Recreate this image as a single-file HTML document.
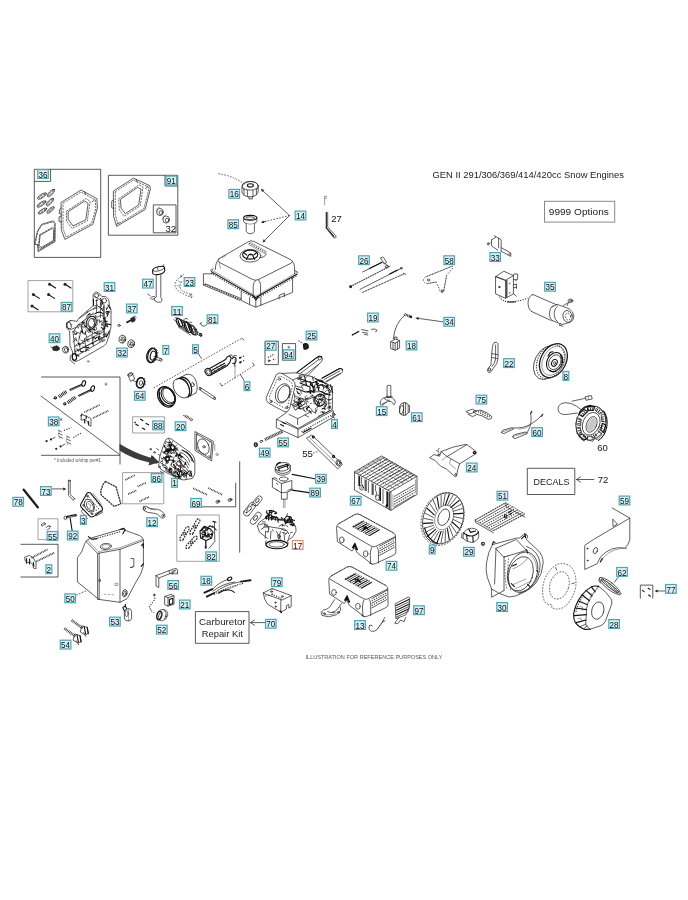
<!DOCTYPE html>
<html><head><meta charset="utf-8"><title>GEN II Snow Engines</title>
<style>
html,body{margin:0;padding:0;background:#fff;}
body{width:688px;height:900px;overflow:hidden;font-family:"Liberation Sans",sans-serif;}
svg{display:block;opacity:.999;}
.k{fill:none;stroke:#2b2b2b;stroke-width:.75;stroke-linecap:round;stroke-linejoin:round;}
.t{fill:none;stroke:#444;stroke-width:.5;stroke-linecap:round;stroke-linejoin:round;}
.h{fill:none;stroke:#111;stroke-width:1.1;stroke-linecap:round;stroke-linejoin:round;}
.w{fill:#fff;stroke:#2b2b2b;stroke-width:.75;stroke-linecap:round;stroke-linejoin:round;}
.g{fill:none;stroke:#8a8a8a;stroke-width:.8;}
.d{fill:none;stroke:#333;stroke-width:.8;stroke-dasharray:1.6 1.4;stroke-linecap:butt;}
.dd{fill:none;stroke:#333;stroke-width:1.1;stroke-dasharray:1.2 1.3;stroke-linecap:butt;}
.gk{fill:none;stroke:#2a2a2a;stroke-width:1.25;stroke-dasharray:1.8 1;stroke-linecap:butt;stroke-linejoin:round;}
.gd{fill:none;stroke:#333;stroke-width:.7;stroke-dasharray:2.2 .9;stroke-linecap:butt;stroke-linejoin:round;}
.b{fill:none;stroke:#222;stroke-width:.75;}
.fk{fill:#222;stroke:none;}
.fg{fill:#777;stroke:none;}
.lb{font-family:"Liberation Sans",sans-serif;font-size:9.9px;fill:#111;text-anchor:middle;}
.tx{font-family:"Liberation Sans",sans-serif;fill:#222;}
</style></head>
<body>
<svg width="688" height="900" viewBox="0 0 688 900">
<defs><filter id="gs" x="0" y="0" width="688" height="900" filterUnits="userSpaceOnUse" color-interpolation-filters="sRGB"><feColorMatrix type="saturate" values="0"/></filter></defs>
<rect x="0" y="0" width="688" height="900" fill="#fff"/>
<path class="b" d="M34.3 169.3H100.7V257.4H34.3Z"/>
<path class="b" d="M34.3 181.4H50.6V169.3"/>
<path class="b" d="M108.4 175.3H177.8V235.2H108.4Z"/>
<path class="b" d="M165 175.3V186H177.8"/>
<path class="g" d="M28 280.6H72.8V311.8H28Z"/>
<path class="b" d="M41.2 377H120V464.5"/>
<path class="k" d="M41.1 396.2L119.3 454.3"/>
<path class="b" d="M41.1 455.3H120"/>
<path class="g" d="M132.6 416.8H164.6V433H132.6Z"/>
<path class="g" d="M122.6 472.6H163.8V503.8H122.6Z"/>
<path class="g" d="M38 518.8H58V539.6H38Z"/>
<path class="b" d="M20.5 544.3H58V577H20.5"/>
<path class="b" d="M201.7 506.8H235.7V482.8"/>
<path class="g" d="M176.8 515H219.3V561.3H176.8Z"/>
<path class="b" d="M239.7 461.3V552.6"/>
<path class="b" d="M265 341.2H278.3V364.6H265Z"/>
<path class="b" d="M282.4 343.6H295.6V360.2H282.4Z"/>
<path class="b" d="M195.4 611.6H249V643.3H195.4Z"/>
<path class="b" d="M527.3 468.3H574.8V494.5H527.3Z"/>
<rect x="544.5" y="201.3" width="70.2" height="20.8" fill="#fff" stroke="#8a8a8a" stroke-width="1"/>
<path class="b" d="M640.3 598.6V585.1H652.8V598.6"/>
<path class="k" d="M289.5 215.5L263.1 191.0"/>
<path class="fk" d="M260.8 188.8L264.2 189.9L262.1 192.1Z"/>
<path class="k" d="M289.5 215.5L264.8 240.2"/>
<path class="fk" d="M262.5 242.5L263.7 239.2L265.8 241.3Z"/>
<path class="d" d="M289.5 215.5L264 221.8"/>
<path class="k" d="M266.0 221.3L263.9 221.8"/>
<path class="fk" d="M260.8 222.6L263.5 220.4L264.3 223.3Z"/>
<path class="d" d="M218.3 173.8Q233 175.5 245 184.5"/>
<path class="k" d="M442.8 321.8L418.5 318.4"/>
<path class="fk" d="M415.3 318.0L418.7 317.0L418.3 319.9Z"/>
<path class="k" d="M52.2 488.9L63.2 488.9"/>
<path class="fk" d="M66.4 488.9L63.2 490.4L63.2 487.4Z"/>
<path class="h" d="M292.2 474.4L314.7 478.8"/>
<path class="h" d="M292.2 490.1L308.9 492.6"/>
<path class="k" d="M265.0 622.6L250.5 622.6M254.5 620.0L250.5 622.6L254.5 625.2"/>
<path class="k" d="M594.0 479.5L576.5 479.5M580.5 476.9L576.5 479.5L580.5 482.1"/>
<path class="k" d="M665.0 591.0L657.7 591.0"/>
<path class="fk" d="M654.5 591.0L657.7 589.5L657.7 592.5Z"/>
<path class="k" d="M618.6 576.6L614.5 582.2"/>
<path class="d" d="M76.300 595.200L87.500 590.100"/>
<path class="d" d="M153.6 387.9L242.1 338.1"/>
<path class="k" d="M198.3 353.7L201.4 358.4M242.1 338.1l1.600 1.800"/>
<path class="d" d="M221.8 385.9L254.3 365.5"/>
<path class="k" d="M221.8 385.9l-1.600-2.600M254.300 365.500l-1.600-2.600M240.400 374.400l3.600 6"/>
<path class="k" d="M61.4 202.2L81.2 190.0L96.9 198.7L97.4 208.0L92.8 224.3L64.9 239.4L61.4 230.1Z"/>
<path class="gd" d="M63.0 203.2L81.0 192.1L95.3 200.0L95.8 208.5L91.6 223.3L66.2 237.0L63.0 228.6Z"/>
<path class="k" d="M68.4 211.5L84.7 201.0L88.1 203.4L85.8 219.7L73.0 226.0L68.4 219.7Z"/>
<path class="gd" d="M66.5 211.1L86.0 198.5L90.1 201.4L87.3 220.9L72.0 228.5L66.5 220.9Z"/>
<path class="k" d="M61.4 208l-2 1.5v4l2 .5M61.4 216l-2.4 1v4.5l2.4 .5M84 191.400l2 3M94.600 199.600l-2.400 2.400"/>
<path class="k" d="M37.6 231.0L41.6 224.3L53.3 220.8L55.2 223.1L55.0 241.7L38.1 251.6L37.6 245.2L34.8 244.3L34.8 243.0Z"/>
<path class="gd" d="M38.0 231.4L41.7 225.1L52.6 221.9L54.4 224.0L54.2 241.3L38.5 250.5L38.0 244.6L35.4 243.7L35.4 242.5Z"/>
<path class="k" d="M40.5 235.0L52.1 228.4L53.8 230.1L53.3 240.6L41.0 247.6L39.3 245.2Z"/>
<path class="gd" d="M39.6 234.6L52.9 227.1L54.8 229.0L54.2 241.0L40.2 249.0L38.3 246.2Z"/>
<ellipse class="k" cx="42" cy="196" rx="5.2" ry="1.7" transform="rotate(-32 42 196)"/>
<ellipse class="gd" cx="42" cy="196" rx="3.6" ry="0.7999999999999999" transform="rotate(-32 42 196)"/>
<ellipse class="k" cx="51" cy="193" rx="5" ry="1.7" transform="rotate(-48 51 193)"/>
<ellipse class="gd" cx="51" cy="193" rx="3.4" ry="0.7999999999999999" transform="rotate(-48 51 193)"/>
<ellipse class="k" cx="41.5" cy="204" rx="5.2" ry="1.7" transform="rotate(-32 41.5 204)"/>
<ellipse class="gd" cx="41.5" cy="204" rx="3.6" ry="0.7999999999999999" transform="rotate(-32 41.5 204)"/>
<ellipse class="k" cx="50" cy="202" rx="5" ry="1.7" transform="rotate(-48 50 202)"/>
<ellipse class="gd" cx="50" cy="202" rx="3.4" ry="0.7999999999999999" transform="rotate(-48 50 202)"/>
<ellipse class="k" cx="42.5" cy="211" rx="5" ry="1.6" transform="rotate(-32 42.5 211)"/>
<ellipse class="gd" cx="42.5" cy="211" rx="3.4" ry="0.7000000000000001" transform="rotate(-32 42.5 211)"/>
<ellipse class="k" cx="50.5" cy="210" rx="4.6" ry="1.6" transform="rotate(-40 50.5 210)"/>
<ellipse class="gd" cx="50.5" cy="210" rx="2.9999999999999996" ry="0.7000000000000001" transform="rotate(-40 50.5 210)"/>
<path class="k" d="M113.7 190.9L133.5 178.1L149.8 185.7L150.3 189.2L145.1 209.5L116.6 226.4L113.7 216.5Z"/>
<path class="gd" d="M115.3 191.7L133.3 180.0L148.2 186.9L148.6 190.1L143.9 208.6L118.0 224.0L115.3 215.0Z"/>
<path class="k" d="M120.7 199.1L137.6 187.4L141.0 189.2L138.7 204.9L125.3 213.6L121.3 208.4Z"/>
<path class="gd" d="M118.7 198.8L139.0 184.8L143.0 187.0L140.3 205.8L124.2 216.2L119.4 210.0Z"/>
<path class="k" d="M113.7 200l-2 1.2v6.5l2 .8M136 179.400l1.600 3M147.600 186.400l-2 2.400M116.600 224.400l2.400-1.600"/>
<ellipse class="k" cx="160" cy="212" rx="3.3" ry="3.6"/>
<ellipse class="k" cx="160.8" cy="212.6" rx="1.7" ry="2"/>
<path class="t" d="M156.7 212q-1 -4 3 -5"/>
<ellipse class="k" cx="166.2" cy="219.6" rx="3.3" ry="3.6"/>
<ellipse class="k" cx="167.0" cy="220.2" rx="1.7" ry="2"/>
<path class="t" d="M162.89999999999998 219.6q-1 -4 3 -5"/>
<path class="b" d="M153.3 204.9H176V232.8H153.3Z"/>
<path class="k" d="M242 186.5q1-4 8-5 7 0 8.3 4.6l-.2 6.2q-2 4.6-8.4 4.6-6.5-.4-7.6-4.4Z"/>
<ellipse class="k" cx="250.2" cy="185.8" rx="8.1" ry="4.4"/>
<ellipse class="h" cx="250.4" cy="185.4" rx="3" ry="1.6"/>
<path class="k" d="M244 189.5v5.5M247.4 190.3v6M253 190.3v6M256.4 189.5v5.3M242.4 188l2 1.6M258 188l-1.8 1.6"/>
<path class="k" d="M249 196.5v2.4h3.4v-2.4"/>
<ellipse class="h" cx="250.2" cy="217.8" rx="6.6" ry="2.4"/>
<ellipse class="k" cx="250.2" cy="218.2" rx="4.4" ry="1.4"/>
<path class="k" d="M243.6 217.8v3.6q.4 1.6 2.6 2v8q1.5 2.4 4.2 2.4t4-2.4v-8q2-.4 2.4-2v-3.6"/>
<path class="t" d="M246.2 223.4q4 1.8 8.2 0"/>
<path class="t" d="M324.6 204.8v-8.6h1.8v2.2h-1.8"/>
<path class="h" d="M326.3 212.4v15.4l7.6 8.6"/>
<path class="k" d="M327.7 212.4v14.6l8 8.6q1.2 1.7-.4 2.4-1.3.4-2.4-1.2l-6.6-8.9"/>
<path class="k" d="M219 258.6L248.6 241.6q2.4-1.5 5.2-.2L291 259.8q2.6 1.6 .4 3.2L258.4 279.6q-2.8 1.2-5.6 0L219.2 262.3q-2.4-1.8-.2-3.7Z"/>
<path class="k" d="M217.8 260.6Q215.4 263 215.3 269.6M255.6 280.4q-2.4 2-2.4 6v10.6M292.6 261.4q2 2.4 2 6.4v5.8M258.4 279.6q2.2 2 2.2 6v10"/>
<path class="h" d="M211.4 271.6L255.8 297.6L297.2 274"/>
<path class="dd" d="M211 273L255.8 299.2L297.6 275.4"/>
<path class="t" d="M212 270.2L256 296.2L296.6 272.6"/>
<path class="k" d="M210.4 270.4l2.8-1.6M297.8 272.4l-2.8-1.8"/>
<path class="h" d="M253.6 296.4l2.4 3.6 2.6-3.4"/>
<path class="k" d="M255.8 299.4V307.2L292.6 292.4V277.6M255.8 307.2L249.6 304.6M241.2 291V300.4L249.6 304.6V297.6"/>
<path class="k" d="M260.8 297.6v7.6M279 299l0 -3.6 5.4-2.2v3.6"/>
<path class="k" d="M213 273.8H203.4V285L240 300.4M203.4 285l1.8-1.2L241.2 298.6"/>
<path class="dd" d="M205 284.6L240.6 299.6"/>
<ellipse class="k" cx="250.4" cy="255.8" rx="10.4" ry="6.3"/>
<ellipse class="h" cx="250.2" cy="254.6" rx="7.6" ry="4.5"/>
<path class="h" d="M246.4 259.4l2.4-4.6h3.6l2.2 4.6M243.4 252.6l3.4 2.4M257 252.4l-3 2.4M248.8 254.8q1.6-1.4 3.6 0"/>
<path class="k" d="M259.6 257.8q5.6-.4 6.8-4"/>
<path class="dd" d="M249.2 243.2L265.8 252.8"/>
<path class="t" d="M248.6 244.4L265.2 254M249.8 242L266.4 251.6"/>
<path class="t" d="M222.4 257.6l3.4-2M219.2 262.3l1.2 6"/>
<path class="h" d="M49.6 284.2l6 3.8"/>
<circle class="fk" cx="49.6" cy="284.2" r="1.5"/>
<path class="h" d="M65 284.2l6 3.8"/>
<circle class="fk" cx="65" cy="284.2" r="1.5"/>
<path class="h" d="M33.4 294.6l6 3.8"/>
<circle class="fk" cx="33.4" cy="294.6" r="1.5"/>
<path class="h" d="M48.6 294.6l6 3.8"/>
<circle class="fk" cx="48.6" cy="294.6" r="1.5"/>
<path class="h" d="M32 306l6 3.8"/>
<circle class="fk" cx="32" cy="306" r="1.5"/>
<path class="k" d="M93.4 294.0L96.0 291.8L99.4 293.4L101.8 296.6L105.6 296.4L108.8 299.6L109.4 305.0L111.0 309.6L111.0 326.6L109.0 336.0L106.3 343.6L104.4 345.6L78.4 360.6L75.0 361.6L72.4 358.0L72.6 352.0L70.0 345.6L69.6 331.0L66.4 328.0L66.6 322.6L71.0 320.4L77.0 321.4L79.0 318.0L93.0 305.8Z"/>
<path class="k" d="M95 296.6l5.400 3.400 3.800 5v31l-3.600 6L77 355.600M75.600 356l-2.600-24 5-7 15.600-12"/>
<ellipse class="h" cx="91.2" cy="322.8" rx="4.8" ry="6.8" transform="rotate(20 91.2 322.8)"/>
<ellipse class="k" cx="91.4" cy="323" rx="3.2" ry="4.8" transform="rotate(20 91.4 323)"/>
<ellipse class="t" cx="91" cy="322.6" rx="6.4" ry="8.6" transform="rotate(20 91 322.6)"/>
<ellipse class="k" cx="96.6" cy="295.6" rx="2.2" ry="2"/>
<ellipse class="k" cx="104.4" cy="300.6" rx="2.2" ry="2.4"/>
<path class="k" d="M71 320.400q-4.400 1.600-4.200 5.400 .4 3.600 4.200 3.600l7-2.800"/>
<ellipse class="k" cx="69" cy="325.4" rx="2.2" ry="3.6" transform="rotate(-15 69 325.4)"/>
<path class="k" d="M80 318l8-6M84.400 338.600l14-7.600M78.600 342l2.400 10M84.600 339.200l1.600 11M92 335.400l1.400 10.600M99 331.600l.8 10.600M103.600 306l.4 30M100.400 303.600v14M96.600 300v13M81 330.600l-2.200 9.600M86.400 312.400l7-3.600M97.600 316.600l5.600-1.600M97.600 320.600l5.600 2"/>
<path class="k" d="M76 346l28-14.600M77.200 350.600l28-14.200"/>
<path class="h" d="M98.600 306.400q3 1 4 4M95 313.600q4.600-3 8 0M82.600 321.600q-2 6 .6 12M104.600 318.600q2.600 4 0 9"/>
<path class="h" d="M100.600 298.400l2 5.600M93.400 299.400l.2 6.400M106.600 311.600l3.400.4M106.800 324l3.600.6M108 305l2.400 4M109.400 331l-3 6"/>
<path class="k" d="M86.5 339.0Q87.9 338.6 87.7 340.3M99.4 337.7Q100.1 340.3 101.3 339.9M106.8 323.0Q108.5 323.2 107.5 325.2M80.0 333.3L76.3 332.2M73.1 341.9Q75.1 341.4 75.2 339.6M79.2 336.5Q78.8 337.0 79.5 338.1M95.1 331.1Q95.9 330.6 94.3 329.6M97.7 305.5L94.7 307.7M108.7 311.2Q107.9 311.9 105.3 312.2M89.6 328.4Q90.2 327.7 90.1 326.3M77.1 341.3L75.7 337.6M81.4 343.6Q82.2 342.9 83.8 343.4M76.6 349.3Q77.1 350.7 79.5 350.3M88.8 339.6Q87.1 340.0 85.2 339.1M89.1 340.9Q89.0 341.8 87.3 341.2M93.5 309.5Q92.9 308.4 94.5 308.0M83.4 324.3Q83.9 323.6 82.7 321.5M102.1 320.7Q99.8 320.9 99.2 322.8M84.8 339.8Q82.9 341.4 82.5 342.3M89.7 328.5Q89.4 328.0 91.8 327.6M83.0 327.0Q84.5 326.4 84.5 327.1M105.8 333.0Q104.7 335.0 102.9 335.0M92.0 318.2Q92.8 319.2 94.4 319.9M97.1 331.6L97.5 334.1M81.0 340.2L84.7 341.4M101.5 303.5L101.5 306.2M87.1 330.7Q87.2 330.9 85.4 331.4M89.8 327.2L88.3 323.8M98.9 319.3L99.7 320.8M74.1 332.4Q74.8 333.2 76.0 331.2M102.2 341.9L105.0 340.1M87.8 331.7Q88.4 331.5 88.4 329.1M104.2 307.1Q104.8 307.6 102.7 308.5M88.3 338.2Q87.0 340.2 87.2 339.8M78.3 343.0Q80.5 343.9 81.0 345.2M101.6 330.9L99.2 331.1M94.2 317.9L95.9 315.5M76.4 340.3L73.7 338.0M92.4 333.7L92.6 331.6M101.1 333.9L97.6 332.9M94.7 308.5L97.3 308.0M77.3 325.8Q79.0 326.6 78.4 328.2M86.4 351.2Q87.4 349.2 87.4 349.1M77.0 348.9L78.8 351.7M93.9 319.7Q96.2 318.8 96.1 317.0M75.6 346.2Q75.0 345.0 77.0 344.3M83.0 346.8L85.3 347.8M104.2 334.6Q105.9 335.2 106.3 333.4M72.5 331.9Q74.4 331.7 75.1 330.5M75.9 352.1Q74.1 350.9 74.4 349.8M95.9 337.7Q98.4 336.8 99.7 336.6M88.0 332.3Q88.3 333.1 89.6 332.1M93.7 338.8L94.2 336.2M100.4 301.6L100.6 304.8M94.3 322.3Q94.0 320.8 92.8 318.8M95.1 305.8Q96.3 304.9 97.2 304.4M107.3 326.6L105.8 323.6M107.1 334.5Q105.1 334.6 104.6 337.2M96.8 327.7Q97.0 329.7 95.9 330.2M86.1 349.5Q86.4 350.1 88.9 350.3M102.7 316.5L105.2 318.9M78.1 324.7L81.0 324.6M80.3 326.8L79.5 324.9M104.3 339.4Q102.4 339.8 102.0 341.2M101.4 337.7Q100.1 335.6 99.4 336.2M85.3 351.8Q86.5 350.0 86.2 349.9M85.2 333.4Q87.0 335.7 86.6 336.9M86.7 316.4Q87.3 314.0 88.9 314.0M95.3 324.2Q93.5 326.5 93.9 327.1M92.7 340.9Q92.8 341.0 93.7 339.7"/>
<path class="h" d="M83.2 351.3Q82.0 352.4 80.7 351.4M104.6 321.1Q104.4 321.8 107.2 321.2M107.3 311.5L108.5 312.2M106.4 309.5L107.4 307.2M93.3 343.9Q91.8 343.2 91.9 343.1M102.1 325.4Q102.4 323.4 101.7 324.1M83.2 321.9Q84.7 323.1 83.6 323.1M94.9 329.9Q94.7 329.0 93.3 329.8M103.4 329.1L101.3 327.4M106.1 326.0Q106.5 325.2 107.7 326.9M79.8 344.5L78.0 343.4M86.0 346.8Q85.9 348.3 88.8 347.4M98.7 338.5Q98.2 338.9 98.9 336.6M108.3 313.1L106.4 313.8M81.4 331.3L82.3 332.3M74.8 333.6Q74.9 335.0 76.9 333.5M108.1 314.1L107.1 316.3M78.9 356.1Q78.2 356.2 77.5 354.8M85.9 327.0Q84.6 325.3 84.5 325.3M103.4 318.4Q103.6 318.3 105.9 317.7M89.5 330.5L91.1 332.0M88.5 314.5L90.0 313.7M97.5 300.1L96.1 300.6M94.5 332.4Q95.9 333.0 97.1 333.7M105.0 328.1L102.9 329.8M84.9 334.3L85.4 331.8M94.2 338.0L93.1 337.4M95.2 338.8Q96.4 337.5 96.9 337.1"/>
<path class="k" d="M73.400 353.600l-3.200 2.400v4.400l4.600 3.400M74.600 352l32-16.400"/>
<ellipse class="h" cx="74.4" cy="357" rx="2.2" ry="3.4"/>
<ellipse class="t" cx="88.2" cy="361.4" rx="1" ry="0.8"/>
<path d="M53.400 346.800l3.400-1 2.400 1.600.2 2.200-2.800 1.200-3.400-.6-.6-1.800Z" fill="#2a2a2a" stroke="#222" stroke-width=".8"/>
<path class="k" d="M51 347l2.400.8M56.600 345.800l.6 4.600"/>
<ellipse class="k" cx="65.6" cy="349.8" rx="3" ry="3.3" transform="rotate(-15 65.6 349.8)"/>
<ellipse class="k" cx="66.2" cy="350" rx="1.7" ry="2.1" transform="rotate(-15 66.2 350)"/>
<path class="t" d="M63 347.600l3-1.400 2.400 1.200"/>
<path d="M126.400 322.600l5-2.600" stroke="#222" stroke-width="1.800" fill="none"/>
<path d="M130.600 318.600l2.800-1.600 1.800 1.400-.4 2.600-2.800 1.200Z" fill="#2a2a2a" stroke="#222" stroke-width=".8"/>
<path class="k" d="M133.400 317l1.400-1 1.200 1.400"/>
<ellipse class="k" cx="119" cy="325.4" rx="1.3" ry="1"/>
<ellipse class="k" cx="122.4" cy="339.2" rx="3.3" ry="3.9" transform="rotate(15 122.4 339.2)"/>
<ellipse class="d" cx="123.0" cy="339.5" rx="2.3" ry="2.9" transform="rotate(15 123.0 339.5)"/>
<ellipse class="k" cx="123.0" cy="339.5" rx="1.3" ry="1.8" transform="rotate(15 123.0 339.5)"/>
<path class="t" d="M120.9 338.2l2.6 2.6"/>
<ellipse class="k" cx="131.2" cy="343.8" rx="3.3" ry="3.9" transform="rotate(15 131.2 343.8)"/>
<ellipse class="d" cx="131.79999999999998" cy="344.1" rx="2.3" ry="2.9" transform="rotate(15 131.79999999999998 344.1)"/>
<ellipse class="k" cx="131.79999999999998" cy="344.1" rx="1.3" ry="1.8" transform="rotate(15 131.79999999999998 344.1)"/>
<path class="t" d="M129.7 342.8l2.6 2.6"/>
<path class="h" d="M152.6 270.4q.4-2.4 5.6-3.6 5.4-1.2 6.2.4l.4 3.4q-.6 2.6-5.6 3.8-5.6 1-6.4-.8Z"/>
<path class="k" d="M152.6 270.4q1.2 1.6 6 .6 5.4-1.2 6.2-3.8M157 267.2l1.2 2.8M163.2 265.8l.6-1.2"/>
<path class="k" d="M156.2 274.6v22.6l-1.8 1v2.4l3.2 1.6h3l1.2-1.2v-2.6l-1-.8v-23"/>
<path class="k" d="M154.6 296.4l-3.2 .6-1.2 1.6M150 295.6l-2.2-1.4M151.8 299.4l2.4-.6"/>
<path class="d" d="M181.800 275.800Q164.200 287.400 191.400 297.400M181.800 281.400Q175.400 291 191.400 294.200M180.600 277.600l3-3.200M191.400 293.600v4.400M189.600 295.600l3.400 .6M180.400 275.600l2.800 1.600"/>
<path class="t" d="M178.400 281l2.400 1.400M177 285.600l3 .6"/>
<path class="k" d="M175 317.4l3 2.6M173.8 319.6l3.2 2.6"/>
<ellipse class="h" cx="179.4" cy="322.6" rx="2.4" ry="4.6" transform="rotate(-28 179.4 322.6)"/>
<ellipse class="k" cx="181.6" cy="323.8" rx="2.4" ry="4.8" transform="rotate(-28 181.6 323.8)"/>
<ellipse class="k" cx="186" cy="326.2" rx="2.8" ry="5.4" transform="rotate(-28 186 326.2)"/>
<ellipse class="h" cx="188" cy="327.4" rx="2.8" ry="5.4" transform="rotate(-28 188 327.4)"/>
<path class="k" d="M177.6 318.4l10.6 4M181.6 327.6l6 4.6M183.6 320l1.6-1.6 2.6.6M189.4 322l2.4.6"/>
<ellipse class="h" cx="192.6" cy="329.8" rx="2.6" ry="5.2" transform="rotate(-28 192.6 329.8)"/>
<ellipse class="k" cx="194.2" cy="330.6" rx="2.6" ry="5.2" transform="rotate(-28 194.2 330.6)"/>
<path class="h" d="M178 321l2 4.600M180.400 319.600l2.600 6M184.400 322.600l3 7M186.600 321.600l3.400 8M190.600 326l2.600 6.400"/>
<path class="k" d="M176.600 317.600l14 7M178.400 327l12 8"/>
<ellipse class="k" cx="193.6" cy="330.4" rx="1.2" ry="2" transform="rotate(-28 193.6 330.4)"/>
<path class="k" d="M195.6 331.4l5.2 2.6M195 333.2l5 2.6"/>
<ellipse class="h" cx="200.8" cy="334.8" rx="0.9" ry="1.4" transform="rotate(-28 200.8 334.8)"/>
<path class="k" d="M200.4 323.4q.6 2.6 3.4 2.8 2.4 0 3-1.8M201.6 322.6l-1.6 1"/>
<ellipse class="h" cx="152.2" cy="355.4" rx="4.3" ry="7" transform="rotate(15 152.2 355.4)"/>
<ellipse class="h" cx="153" cy="355.6" rx="2.6" ry="4.6" transform="rotate(15 153 355.6)"/>
<ellipse class="h" cx="151.6" cy="355.4" rx="4.8" ry="7.4" transform="rotate(15 151.6 355.4)"/>
<ellipse class="d" cx="152.4" cy="355.4" rx="5.2" ry="7.8" transform="rotate(15 152.4 355.4)"/>
<path class="k" d="M154 356.4l6.2 2M153.6 358.6l6 2"/>
<ellipse class="k" cx="160.8" cy="359.8" rx="1" ry="1.6"/>
<path class="k" d="M128 374.6q2.4-2.2 5 0l1.6 4.4-3.6 2.2Z"/>
<ellipse class="k" cx="130.4" cy="374.4" rx="2.6" ry="1.5" transform="rotate(-20 130.4 374.4)"/>
<path class="k" d="M133 380.6l4 1.6"/>
<ellipse class="h" cx="140.6" cy="382.8" rx="3.6" ry="4.9" transform="rotate(15 140.6 382.8)"/>
<ellipse class="dd" cx="140.8" cy="382.9" rx="4.4" ry="5.6" transform="rotate(15 140.8 382.9)"/>
<ellipse class="h" cx="140.4" cy="382.8" rx="4" ry="5.2" transform="rotate(15 140.4 382.8)"/>
<ellipse class="k" cx="141" cy="383" rx="1.6" ry="2.4" transform="rotate(15 141 383)"/>
<ellipse class="h" cx="167.2" cy="396.2" rx="7.4" ry="10.4" transform="rotate(-32 167.2 396.2)"/>
<ellipse class="h" cx="168" cy="395.8" rx="6" ry="8.8" transform="rotate(-32 168 395.8)"/>
<ellipse class="h" cx="166.2" cy="397" rx="7.8" ry="10.8" transform="rotate(-32 166.2 397)"/>
<ellipse class="k" cx="169" cy="395.2" rx="5.4" ry="8" transform="rotate(-32 169 395.2)"/>
<path class="h" d="M159.6 392.6q-1.4 6.6 4.8 12.6"/>
<ellipse class="k" cx="181.4" cy="388.2" rx="7.2" ry="10.6" transform="rotate(-32 181.4 388.2)"/>
<path class="k" d="M176.6 379.6l9.6-5.2M187.4 397.4l8.4-4.4"/>
<path class="k" d="M186.2 374.4q6.8-1.4 9.8 6.6 2.6 7.6-.2 12"/>
<path class="h" d="M178.8 378.4q6.4-.6 9.6 7 2.8 7.4-.2 11.6M180.8 377.2q6.4-.6 9.6 7 2.8 7.4-.2 11.6"/>
<ellipse class="k" cx="192.6" cy="384.6" rx="1.5" ry="2.1" transform="rotate(-20 192.6 384.6)"/>
<path class="k" d="M200.6 387.6l14.4 9.6M199.4 389.6l14.4 9.6"/>
<ellipse class="k" cx="200" cy="388.6" rx="0.8" ry="1.3" transform="rotate(-30 200 388.6)"/>
<ellipse class="k" cx="214.6" cy="398.4" rx="0.8" ry="1.3" transform="rotate(-30 214.6 398.4)"/>
<ellipse class="h" cx="208.4" cy="372" rx="3" ry="3.8" transform="rotate(-35 208.4 372)"/>
<ellipse class="k" cx="208.4" cy="372" rx="1.7" ry="2.4" transform="rotate(-35 208.4 372)"/>
<path class="h" d="M209.6 368.6l16-9M211 375l16.6-9.6"/>
<path class="h" d="M211.6 370.6l13-7.4M212.6 372.6l13-7.6"/>
<path class="k" d="M213 369.200l3 2.600M216.600 367l3 2.800M220.400 365l3 2.600"/>
<path class="h" d="M225.6 359.6q1.4-3.4 4-3.8l1.6 2.6q-1 4.6-3.6 6.8"/>
<path class="k" d="M229.6 355.8l1.6-1.2 1.4 2.2"/>
<path class="h" d="M232.4 358.6q2-2.6 3.4-.4 1 3-1.4 5.6l-1.6-.6"/>
<path class="k" d="M233.2 357.6l1-2.4 2.4.6M234.4 364.4l.6 2"/>
<path class="dd" d="M240.6 357.4l4.6-2M240.8 362l4.6-2"/>
<circle class="fk" cx="240" cy="357.8" r="1.1"/><circle class="fk" cx="240.2" cy="362.4" r="1.1"/>
<path class="t" d="M235 359.4V378.6"/>
<path class="dd" d="M268 357.6l6.4-3.6M268.4 361.6l2.6-1M273 359.8l2.6-1"/>
<ellipse class="k" cx="269" cy="360.6" rx="0.9" ry="0.7"/>
<path class="t" d="M288.8 346.1L288.8 348.3M289.8 346.6L287.8 347.8M289.8 347.8L287.8 346.6"/>
<path class="dd" d="M298.6 340.6l4.4 3"/>
<path class="fk" d="M303.4 344.4q2.2-1.8 4.4 0l.6 3q-1.8 2.6-4.4 1.6Z"/>
<path class="h" d="M303.4 344.4q2.2-1.8 4.4 0l.6 3q-1.8 2.6-4.4 1.6Z"/>
<path class="dd" d="M350.4 286.6L390.4 266"/>
<path class="t" d="M350.4 286.6L390.4 266"/>
<path class="k" d="M362.6 272L382.4 262.2"/>
<path class="h" d="M369.4 268.4L381.6 262.4"/>
<path class="k" d="M360 289.4L400.8 268.6"/>
<path class="h" d="M389.6 274L397.4 270"/>
<path class="t" d="M362.4 292.4L404.2 273.8"/>
<path class="d" d="M362.4 292.4L404.2 273.8"/>
<path class="k" d="M380.8 257.6q2.4-1.4 3.4.6l2.4 4.4-2 1.2Z"/>
<ellipse class="k" cx="386.6" cy="266.6" rx="1.6" ry="1.1" transform="rotate(-25 386.6 266.6)"/>
<ellipse class="k" cx="401.2" cy="268.2" rx="1.1" ry="0.8"/>
<ellipse class="h" cx="350.6" cy="286.8" rx="0.9" ry="0.9"/>
<path class="k" d="M383.6 262.6l4.4 3.4M403.4 273.2l2.2 1.2"/>
<path class="d" d="M426.4 276.6L451.6 266.4q2-.4 1.4 1.4L446.6 275.4 443.8 290.6q-.8 2.4-2.6 1.6-1.6-.8-1.6-2.6L436 282 427.6 283.6q-4-.2-4.2-3.2 0-2.6 3-3.8Z"/>
<path class="t" d="M426.4 276.6L451.6 266.4M446.6 275.4l-2.8 15.2M436 282l-8.4 1.6"/>
<ellipse class="k" cx="428.4" cy="280" rx="1.3" ry="1"/>
<ellipse class="k" cx="442.2" cy="291" rx="1" ry="1.2"/>
<path class="k" d="M494.2 235.6L501.2 239.8V251.2M491.6 239.8V246L497.8 250.2M491.6 239.8L495.6 237.4M501.2 247.6L510.8 253V256.4L507.4 254.6M501.2 251.2L507.4 254.6M498.6 238.2v9.6"/>
<ellipse class="k" cx="488.2" cy="243.8" rx="0.9" ry="1.1"/>
<ellipse class="t" cx="509.4" cy="254" rx="0.8" ry="1"/>
<path class="t" d="M489 243.4l2.6-1"/>
<path class="k" d="M495.9 276.5L505.5 280.2L505.5 298.3L495.9 293.9Z"/>
<path class="k" d="M495.9 276.5L503.8 271.2L513.4 275.6L505.5 280.2Z"/>
<path class="k" d="M513.4 275.6V293.9L505.5 298.3"/>
<path class="h" d="M506.8 280.6V297"/>
<path class="k" d="M513.4 275.6l.6-1.6h3.6v5.6l-2 .8M513.4 279.6h3"/>
<circle class="fk" cx="499.4" cy="287" r="1.1"/>
<path class="k" d="M513.6 284.6h2.8M513.6 287.6h2.8M516.4 284v4.4M513.4 293.6l3 2.6"/>
<ellipse class="t" cx="509.4" cy="283.6" rx="0.5" ry="0.5"/>
<ellipse class="t" cx="509.4" cy="293" rx="0.5" ry="0.5"/>
<path class="dd" d="M499.6 296.4q2 5.4 10.6 5.4 9.6-.4 17.4-3.8"/>
<path class="h" d="M507.6 302h7.6"/>
<path class="k" d="M532.6 294.6q-4.4 1.6-4.6 8.4.4 6.8 3.4 8.4"/>
<path class="k" d="M532.6 294.4L557 305M531.4 311.4L550.4 320.2"/>
<path class="k" d="M552.8 305.6q-3.4 2.4-3.4 8 .4 5.6 2.6 6.8M551.8 307l5.4-2.6 12 4.4q4.4 3 4.6 7 .2 4-3 6.2l-8.6 2.6-10.6-4.4"/>
<path class="k" d="M557.4 306.6q-3.6 2.6-3.2 8.6.6 5 3.4 6.6"/>
<ellipse class="k" cx="567.6" cy="316.4" rx="4.6" ry="6" transform="rotate(-15 567.6 316.4)"/>
<ellipse class="d" cx="568" cy="316.6" rx="2.6" ry="3.6" transform="rotate(-15 568 316.6)"/>
<path class="k" d="M560.6 323.6l-1.6 1.6 4 1M563.6 305.4l4-2.4"/>
<ellipse class="k" cx="570.4" cy="300.8" rx="2.4" ry="1.8"/>
<ellipse class="k" cx="570.6" cy="300.8" rx="1" ry="0.8"/>
<path class="k" d="M568.6 302.4l-1.6 3.4"/>
<path class="dd" d="M352.2 335l6.6-3.6"/>
<path class="h" d="M352.2 335l6.6-3.6"/>
<path class="k" d="M361.6 329.6l6.4 1.2M362.6 332.4l5 .8M364.4 334.4l3.4 .6"/>
<path class="k" d="M371.4 329.4q4.4-1.4 5.6 .8 .2 1.4-1.4 1.6"/>
<path class="k" d="M404.6 315.4Q394.6 323.6 393.4 339"/>
<ellipse class="k" cx="405.6" cy="314.8" rx="1.4" ry="1.1"/>
<ellipse class="k" cx="408.6" cy="316" rx="1.2" ry="1"/>
<ellipse class="h" cx="410.8" cy="316.8" rx="0.9" ry="0.8"/>
<path class="k" d="M391 341.6l4.4-2.6 4.2 1.6v7.4l-4.4 2.2-4.2-1.6Z"/>
<path class="k" d="M391 341.6l4.2 1.6 4.4-2.6M395.2 343.2v7M393 342.6v6.6M397.6 342v7"/>
<path class="k" d="M394.6 339.2v-2.2h2.4v2.6"/>
<path class="k" d="M494.6 342.4q2.6-1 3.4 1.4v14.6q-.4 6-4.6 9.6l-2.6 4q-1.6 1.4-3-.4-.8-2 .6-3.6l2.6-3 .4-6.6 1-11.6q.4-3.4 2.2-4.4Z"/>
<path class="k" d="M495.6 345v14q-.6 4.6-3.6 7.6M491.6 353.6l6.4 1.2M491.4 357.4l6.2 1.2"/>
<ellipse class="k" cx="489.4" cy="369.4" rx="1.2" ry="1.6" transform="rotate(20 489.4 369.4)"/>
<ellipse class="k" cx="547.4" cy="362.6" rx="12.6" ry="18" transform="rotate(28 547.4 362.6)"/>
<ellipse cx="553.4" cy="360.6" rx="12.6" ry="18" transform="rotate(28 553.4 360.6)" fill="#fff" stroke="#1e1e1e" stroke-width="1.300"/>
<ellipse class="dd" cx="550.4" cy="361.6" rx="12.6" ry="18" transform="rotate(28 550.4 361.6)"/>
<ellipse class="t" cx="553.6" cy="360.8" rx="10.6" ry="15.6" transform="rotate(28 553.6 360.8)"/>
<ellipse class="h" cx="554.6" cy="362" rx="7.6" ry="10" transform="rotate(28 554.6 362)"/>
<ellipse class="k" cx="554.8" cy="362.2" rx="5.8" ry="7.8" transform="rotate(28 554.8 362.2)"/>
<ellipse class="h" cx="554.4" cy="362.8" rx="2.6" ry="3.6" transform="rotate(28 554.4 362.8)"/>
<ellipse class="k" cx="554.6" cy="363" rx="1" ry="1.4" transform="rotate(28 554.6 363)"/>
<path class="h" d="M548 356l2-3.600 3-.6M549.600 370.400l3.400 1.600 3-.8M560.600 355.600l1.600 3.400-.6 3.600"/>
<path class="k" d="M387.4 385.6q1.6-1 3.400 0v11.600l-3.400 .4Z"/>
<path class="k" d="M386.4 396.4h5.800M380.6 400.600q2.400-3.600 6.400-3.400l5 .6q3 1.200 3.400 4.400l-1.400 2.600-2.400-3-3.800-.6-2.600 1.400-2.200 2.600-2.400-.4Z"/>
<path class="k" d="M384 398.4q2 2.600 5.600 2M382.600 403.600l3.600-1"/>
<path class="k" d="M399.6 406.400q.4-3.400 4.600-3.800 3.600 0 4 2.600v7.600q-1 2.400-4.400 2.600-3.600-.2-4.200-2.400Z"/>
<ellipse class="k" cx="401.6" cy="409.8" rx="1.9" ry="4.3" transform="rotate(8 401.6 409.8)"/>
<path class="k" d="M403.600 402.800v12.400M405.600 402.600v12.600"/>
<path class="k" d="M408.200 405l1.400 .6v6.400l-1.400 .6"/>
<path class="k" d="M466.200 411.400l6-2.200 4.400 2-6.200 2.600Z"/>
<path class="k" d="M473.400 411.400l7-1.400q8 2.600 11.400 6.600l-.6 2-2.600 .8q-6.600-4.400-12-5.200Z"/>
<path class="dd" d="M478 411.600l10.600 6M480.400 410.800l9.600 5.600"/>
<path class="k" d="M468 414.200l4.400 2.400 3.400-1.400"/>
<path class="k" d="M501.600 432.400q0-1.600 1.600-2.200l8.600-2.600q1.600 0 1.400 1.600l-9.400 4.400q-1.800 .2-2.200-1.200Z"/>
<path class="k" d="M512.800 436.600q.2-1.400 1.800-2l11-2.600q1.600 .2 1.400 1.600l-11.800 5q-2 .2-2.400-2Z"/>
<path class="t" d="M502.600 431.800l9.600-3.400M514 436l11.600-3.200"/>
<path class="k" d="M513.400 428q10 .6 17.400-3.800 6.600-4 10-8M527 433.200q3.600-6 4-11.600 .2-4.400-.2-8"/>
<path class="h" d="M530.600 413.600l1.200-2.400M541.200 416.400l1.600-2.200"/>
<path class="t" d="M519 429.200q6.400-.4 10.400-3.400"/>
<ellipse class="k" cx="590.9" cy="423" rx="14.8" ry="17.6" transform="rotate(22 590.9 423)"/>
<ellipse class="k" cx="591.6" cy="424.4" rx="5" ry="8.2" transform="rotate(22 591.6 424.4)"/>
<ellipse cx="591.6" cy="424.4" rx="4.2" ry="7.2" transform="rotate(22 591.6 424.4)" fill="#c9c9c9"/>
<ellipse class="k" cx="591.2" cy="423.8" rx="8.4" ry="11.8" transform="rotate(22 591.2 423.8)"/>
<ellipse cx="590.8" cy="423.2" rx="11.4" ry="14.6" transform="rotate(22 590.8 423.2)" fill="none" stroke="#3a3a3a" stroke-width="3.2" stroke-dasharray="1 1.1 1 1.1 1 3.6"/>
<path class="h" d="M578.600 414l5.400-4.400 3.600 2-5.200 5Z"/>
<path class="k" d="M576.200 424l1-6.400 4 1.600-.6 6.600Z"/>
<path class="k" d="M577 433.600l-.6-6.400 4 .6 1 6Z"/>
<path class="h" d="M583.400 440.200l-4.400-4.600 3.600-1.600 4 4.600Z"/>
<path class="k" d="M592.600 441.200l-6-1.600 2-3.400 5.600 1.400Z"/>
<path class="k" d="M601.600 435l-5 5-2-3.600 4.600-4.400Z"/>
<path class="h" d="M605.800 425l-2 7.600-3-2.600 1.600-6.800Z"/>
<path class="k" d="M604.800 414.600l1.200 7.400-3.800-.6-1-6Z"/>
<path class="k" d="M598 407.600l5.400 4.600-3.600 2-4.600-4Z"/>
<path class="h" d="M588 406.400l7 .2-1.600 3.800-6-.2Z"/>
<path class="h" d="M579.400 412.400q4-6.400 11.600-7M603.600 411.200q4.600 6 3.200 15.800-2 9.600-8.400 13.400"/>
<path class="dd" d="M576.600 430.400q1.600 7.600 8.600 11"/>
<path class="k" d="M582 410.200Q570 400 561.400 403.600q-4.800 3-2.600 8 2 3.600 8 2.800l10.400-1.400"/>
<path class="k" d="M572 401.200l13.600-3"/>
<path class="k" d="M585.600 396.600l5.800-1 .8 3.400-5.800 1.200Z"/>
<path class="t" d="M588.400 396v3.600"/>
<path d="M59 397L66.400 391.600" fill="none" stroke="#222" stroke-width="3.600" stroke-dasharray=".9 .75"/>
<path class="h" d="M69.9 389.6L81.5 384.5"/>
<path class="k" d="M70.300 390.600L81.900 385.500"/>
<ellipse class="h" cx="83.7" cy="383.4" rx="1.7" ry="2.9" transform="rotate(20 83.7 383.4)"/>
<ellipse class="h" cx="55.4" cy="397.8" rx="1.1" ry="1.1"/>
<path class="k" d="M53.6 398.600l1-.4"/>
<path d="M67.700 402.700L75.900 396.900" fill="none" stroke="#222" stroke-width="3.600" stroke-dasharray=".9 .75"/>
<path class="h" d="M78.600 395.400L91 389.600"/>
<path class="k" d="M79 396.400L91.400 390.600"/>
<ellipse class="h" cx="92.6" cy="388.6" rx="1.7" ry="2.9" transform="rotate(20 92.6 388.6)"/>
<ellipse class="h" cx="64.8" cy="403.8" rx="1.1" ry="1.1"/>
<path class="t" d="M105.9 383.0L105.9 385.4M106.9 383.6L104.9 384.8M106.9 384.8L104.9 383.6"/>
<path class="t" d="M61.0 418.2L61.0 420.6M62.0 418.8L60.0 420.0M62.0 420.0L60.0 418.8"/>
<path d="M84.4 412.2L99.7 404.9" fill="none" stroke="#2a2a2a" stroke-width="1.6" stroke-dasharray=".8 .8"/>
<path d="M93.1 418.0L108.4 410.7" fill="none" stroke="#2a2a2a" stroke-width="1.6" stroke-dasharray=".8 .8"/>
<path class="k" d="M81.800 414.600l4.400 1.400 4.800 2.600v7.600l-2.400-1-1-3.600-2.600-2-3.600.4Z"/>
<path class="h" d="M81 415.800l1-1.800M84.600 419.400l.2 3.600M88.600 421.600v3M86.200 416v2.400"/>
<circle class="fk" cx="46.6" cy="441.2" r="1.1"/>
<circle class="fk" cx="51" cy="439.4" r="1.1"/>
<circle class="fk" cx="56.2" cy="448.8" r="1.1"/>
<circle class="fk" cx="60.6" cy="446.4" r="1.1"/>
<path class="k" d="M58.400 430.200l3 1.600M59 433.400l3.200 1.600M59.600 436.600l3 1.600M66.600 436l3 1.600M67.200 439.200l3.200 1.600M67.800 442.400l3 1.600"/>
<path class="t" d="M58.800 431.400q-1.600 3 .8 7M66.800 437.200q-1.600 3 1 7.400"/>
<path class="dd" d="M64 430.400l7.400-3M73.400 437.600l7.400-4.400"/>
<path class="k" d="M52.600 438.600l2.400-1.200M62.200 445.600l2.600-1.400"/>
<path d="M119.500 443.800Q134 452.800 150.600 457.800L151.600 455 159.400 462.200 148.400 465.400 149.400 462.400Q132 458.800 119.500 450.400Z" fill="#3c3c3c"/>
<path class="h" d="M135.8 424.2l2.400 1.400"/>
<path class="h" d="M140.5 419.2l2.400 1.400"/>
<path class="h" d="M146.2 423.4l2.400 1.400"/>
<path class="h" d="M142.4 428l2.400 1.400"/>
<ellipse class="k" cx="135" cy="422.4" rx="0.6" ry="0.6"/>
<path d="M185.4 416.0L193.0 420.6" fill="none" stroke="#2a2a2a" stroke-width="2.8" stroke-dasharray=".7 .8"/>
<path class="k" d="M183.400 415.400l2 .8"/>
<path class="k" d="M195.3 431.7L213.3 441.2L211.6 461.0L195.3 450.6Z"/>
<path class="k" d="M196.8 434.2L211.8 442.2L210.4 458.6L196.8 449.8Z"/>
<ellipse class="k" cx="203.4" cy="446.6" rx="5.4" ry="8" transform="rotate(-22 203.4 446.6)"/>
<ellipse class="k" cx="204" cy="446.8" rx="1.3" ry="1.1"/>
<ellipse class="t" cx="217" cy="454.4" rx="1.1" ry="1.4"/>
<path class="t" d="M213.400 443.600l1.400 1v6"/>
<path class="k" d="M197 433.400l.6 1.600M210.600 441l-.8 1.600M209.600 457.200l-.6-1.600M197 448.400l.8-.8"/>
<path class="k" d="M166 439.400q2.400-2.400 5-.6L190.400 452.600q4 3.400 4.400 7.600V474l-2.400 4.400-8.600 1.600-6-1.600L161.400 470l-2.800-4.400 1-8.600 3.600-11Z"/>
<path class="k" d="M180 452q8 3 10 10M178.600 455q8 3 10.400 10M177.600 458q8 3.400 10.800 10M177 461q7.600 3.400 11 10M176.400 464q7.600 3.600 11.400 10.400M176 467.400q7 3.400 10.600 9.600M186.600 451.600q4.600 3.400 5 9"/>
<path class="h" d="M182 450q9 4 11.400 12"/>
<path class="k" d="M166.400 441.600l12 8.600M163.600 446l9.600 7M168.600 438.800l3.400 6M172.600 441.400l-2.600 6.600M176.600 445l-4 5.600M162.600 451.400l8 5.400M161 457.600l7.600 4.800M160.400 462.600l7 4.600M170 455.600l-2.400 8M174 457l-3 8.600"/>
<path class="k" d="M163 466.600l6.600 4M165.600 470.600l9 4.600M171.600 466.400l7 3.600M176.600 471.600l-1.600 6.400M181.600 473l-1 6M186.600 474l-.6 5.400M190.600 470.600l1.400 6"/>
<ellipse class="h" cx="172.6" cy="447.4" rx="2" ry="2.6" transform="rotate(-20 172.6 447.4)"/>
<ellipse class="h" cx="167.4" cy="458.4" rx="1.8" ry="2.4" transform="rotate(-20 167.4 458.4)"/>
<ellipse class="k" cx="179" cy="463.6" rx="2.2" ry="2.8" transform="rotate(-20 179 463.6)"/>
<ellipse class="k" cx="184.6" cy="473.4" rx="2.4" ry="2.8"/>
<ellipse class="h" cx="170.4" cy="470.4" rx="1.6" ry="2"/>
<path class="h" d="M164 452.600q3-4 8-3M166 461.600q4-3 8.600-.6M172 474.600q4 2.600 9 1.600"/>
<path class="k" d="M173.6 462.3L175.7 461.2M177.6 448.0L174.8 447.8M162.8 452.5L165.5 454.2M160.5 461.1Q159.9 461.3 162.1 461.7M173.2 473.0Q172.3 472.7 170.4 472.7M166.9 452.0Q169.3 452.3 169.7 453.3M162.2 464.9Q161.9 465.3 162.5 463.0M167.4 444.8Q169.0 445.3 170.3 446.0M165.7 468.8Q166.4 469.0 167.6 470.9M171.8 473.5L170.8 472.2M166.4 450.8Q165.3 448.5 166.7 448.7M177.5 450.2Q178.0 449.5 175.7 448.9M177.2 473.9L177.9 475.5M165.7 469.1L167.4 468.4M186.5 463.9Q187.1 463.5 185.0 464.7M184.7 463.7L184.2 465.4M176.8 473.4L175.3 472.1M166.1 441.6Q165.0 442.4 165.8 444.0M180.7 463.2Q182.4 464.4 181.7 464.3M179.1 459.3L178.8 457.2M162.3 461.8L162.0 458.4M181.1 471.1L183.0 470.0M187.0 474.1L184.3 475.7M177.2 464.7L175.2 466.6M162.4 465.3L165.7 465.2M171.7 468.9L169.6 467.8M181.0 459.9Q178.2 458.2 178.4 457.6M179.8 457.8L181.4 456.5M166.0 457.4L167.1 454.2M171.5 463.2Q172.2 465.0 170.8 464.7M173.5 451.5L174.0 453.7M174.8 453.0Q174.5 450.1 176.7 450.0M181.3 462.7Q179.6 464.0 180.1 465.6M167.1 446.4Q168.8 447.2 169.8 447.2M184.2 477.4Q182.9 475.1 183.5 475.7M174.2 468.1Q175.2 469.1 175.0 469.9M178.4 469.7L176.0 471.7M173.6 464.8L175.5 463.6M181.7 472.1Q181.9 472.4 179.8 469.8M187.3 473.5Q187.0 475.0 186.4 474.8M170.1 470.9L171.1 472.3M181.7 472.9Q182.4 470.1 180.4 469.7M166.6 461.0L165.9 463.9M175.7 473.1Q175.7 473.9 173.7 472.3M177.2 448.6L174.7 448.1M175.5 456.2Q176.5 453.7 176.3 453.7M176.2 456.7Q177.7 455.1 179.5 455.8M173.0 472.0Q173.1 471.6 175.0 470.6M165.8 449.6Q165.8 447.5 165.0 447.7M175.3 450.5Q175.4 451.5 176.1 453.0"/>
<path class="h" d="M174.2 466.0Q173.5 464.7 173.5 464.7M184.3 467.2L182.5 465.9M164.4 457.7Q166.1 457.7 165.8 460.1M180.6 453.8Q178.2 455.8 178.4 455.3M163.4 457.1L164.5 458.4M164.9 467.5L166.3 468.0M172.0 456.9Q169.8 457.0 170.3 455.7M179.9 454.5L178.3 456.4M172.9 460.7Q173.9 460.5 173.2 462.7M168.3 454.1Q167.0 452.9 167.5 453.1M170.9 448.2Q170.2 447.6 170.9 445.3M170.3 450.2L171.5 450.2M169.7 470.9Q170.3 469.8 170.8 468.9M164.9 452.1L166.1 450.9M175.5 467.4Q174.5 467.2 175.0 465.9M167.2 457.5L169.4 457.3M182.8 456.9L180.4 455.4M177.4 454.2L175.7 456.1M176.0 471.0Q175.0 472.8 175.0 471.9M180.7 461.6L179.6 460.6M181.0 456.0Q181.6 455.9 181.1 457.9M179.8 476.5Q179.2 476.0 178.9 477.5M180.0 454.0L180.2 455.8M168.4 448.7L166.9 449.3M175.0 467.5L176.1 469.3M173.8 473.5L174.6 472.1M180.2 466.2L182.4 465.8M170.5 468.8Q169.5 468.7 169.6 470.7M166.8 461.7L166.8 463.0M178.0 455.8Q177.8 455.2 179.9 453.8M185.3 464.1L185.7 462.2M167.9 456.5Q168.1 456.1 166.5 457.8M166.2 450.7Q168.2 451.6 168.3 450.3M165.1 447.2Q164.0 445.8 164.8 445.5"/>
<path class="h" d="M168.1 452.3Q166.8 450.1 167.1 450.0M176.9 454.9L176.8 452.2M171.8 453.6Q170.7 452.7 170.1 452.8M175.1 450.0L175.0 448.6M171.1 443.2Q171.3 444.5 171.7 445.1M170.3 442.4Q168.6 442.0 168.8 442.4M165.2 451.7L166.9 451.2M173.9 450.5L172.4 449.5M169.5 445.3Q169.2 445.0 170.6 447.3M174.3 450.0Q173.2 448.6 173.1 449.7M168.3 450.8Q170.2 449.7 170.0 451.7M169.4 448.9Q170.9 448.1 171.3 448.6M168.1 452.3L169.1 451.0M169.7 444.4Q168.1 444.8 169.3 445.9"/>
<path class="h" d="M180.3 469.3Q180.8 467.9 180.1 467.1M188.9 474.2L190.1 475.9M178.6 474.5Q178.4 476.5 179.9 475.7M183.0 473.9Q184.1 473.5 184.6 472.2M179.1 471.9L179.6 474.3M177.6 476.6Q179.1 475.9 179.0 477.5M183.7 474.9Q182.6 475.0 181.8 474.5M177.5 472.2L177.7 474.7M191.1 471.5L189.9 473.2M180.2 469.9Q179.9 470.6 181.0 472.0M191.7 473.6Q190.7 473.5 191.2 476.3M178.3 468.6Q177.7 470.2 178.7 471.2M185.0 473.7L187.2 472.9M189.5 470.8L187.4 472.6M180.0 478.1Q177.9 477.4 178.2 478.5M180.1 471.8L178.4 471.3"/>
<ellipse class="k" cx="150.6" cy="449.2" rx="0.9" ry="0.7"/>
<ellipse class="k" cx="154.4" cy="452.4" rx="0.9" ry="0.7"/>
<ellipse class="k" cx="152.6" cy="457.4" rx="0.9" ry="0.7"/>
<ellipse class="k" cx="156.2" cy="462.6" rx="0.9" ry="0.7"/>
<ellipse class="k" cx="159.4" cy="466.8" rx="0.9" ry="0.7"/>
<path class="k" d="M156.600 448.600l2 1.400M158.400 454.400l1.600 1M160.400 471.400l3 2"/>
<path d="M125.4 479.9L134.8 475.2" fill="none" stroke="#2a2a2a" stroke-width="1.7" stroke-dasharray=".8 .8"/>
<path d="M137.7 486.5L146.2 482.6" fill="none" stroke="#2a2a2a" stroke-width="1.7" stroke-dasharray=".8 .8"/>
<path d="M128.2 494.1L136.7 490.3" fill="none" stroke="#2a2a2a" stroke-width="1.7" stroke-dasharray=".8 .8"/>
<path d="M139.6 501.4L149.0 496.9" fill="none" stroke="#2a2a2a" stroke-width="1.7" stroke-dasharray=".8 .8"/>
<path d="M193.2 488.3L207.4 494.9" fill="none" stroke="#2a2a2a" stroke-width="1.7" stroke-dasharray=".8 .8"/>
<path d="M208.3 488.0L222.5 494.9" fill="none" stroke="#2a2a2a" stroke-width="1.7" stroke-dasharray=".8 .8"/>
<ellipse class="k" cx="217.8" cy="501.7" rx="2" ry="1.3" transform="rotate(-20 217.8 501.7)"/>
<ellipse class="k" cx="218.4" cy="501.7" rx="0.9" ry="0.6" transform="rotate(-20 218.4 501.7)"/>
<ellipse class="k" cx="230" cy="499.9" rx="2" ry="1.3" transform="rotate(-20 230 499.9)"/>
<ellipse class="k" cx="230.6" cy="499.9" rx="0.9" ry="0.6" transform="rotate(-20 230.6 499.9)"/>
<path class="k" d="M276.600 374.400q2.400-2.400 5.400-1L292.800 380q2.800 2.400 2.400 6L289.600 408.600q-1.200 3.600-4.600 3.400L268.400 403q-3-2-2.200-5.400Z"/>
<path class="d" d="M278 377.600q1.800-1.800 4.400-.6l8.400 5q2 1.800 1.600 4.600l-4.600 19q-1 2.800-3.600 2.400l-13-7.400q-2.400-1.600-1.800-4Z"/>
<ellipse class="k" cx="282.8" cy="393.4" rx="7" ry="10" transform="rotate(22 282.8 393.4)"/>
<ellipse class="k" cx="283.8" cy="393.8" rx="5.6" ry="8.6" transform="rotate(22 283.8 393.8)"/>
<ellipse class="k" cx="279.6" cy="379.2" rx="1" ry="1.2"/>
<ellipse class="k" cx="271" cy="401.6" rx="1" ry="1.2"/>
<ellipse class="k" cx="287" cy="407.6" rx="1" ry="1.2"/>
<path class="k" d="M282 373.400L296 372.800 311 376.400M295.200 386l6 1.400M292.800 380l5.200-2.400"/>
<path class="k" d="M297 372.400L317 357.400q2.600-2 4.600-.6 1.800 2 .2 4.400L306 377.600"/>
<path class="k" d="M300.400 373.400l17.800-13.400M303 376.400l16-12.400"/>
<path class="h" d="M297 372.400L317 357.400q2.600-2 4.600-.6"/>
<ellipse class="k" cx="319.8" cy="358.4" rx="1.8" ry="1.4" transform="rotate(-30 319.8 358.4)"/>
<path class="k" d="M322 378.200L339 368.800q2.600-1 3.600 1 .6 2.200-1.600 3.600L326.400 382"/>
<path class="k" d="M324.400 379.400l15.600-8.600M325.600 381.600l15-8.400"/>
<path class="h" d="M322 378.200L339 368.800q2.600-1 3.600 1"/>
<path class="h" d="M298 378l14 5 8-3 6 4M300 383l10 4v6M296.400 388.600l9 3.400 10.400-2M312 383.600l2 8M316.600 381.600l2.400 9M304.600 376.400l2 9"/>
<path class="k" d="M307 392.400l16-1 3 3M294.600 396l12 4 12-5M305 396.600l1.600 8M312.600 395l1.600 9M299.600 398.600l.6 8"/>
<path class="h" d="M318.400 385.400q5-2 8 1.600M320.600 391.400l7 3M315.400 378.800l6.800 3.400M326.600 386l4 5M330.400 384.800l2.400 8"/>
<path class="k" d="M291 404l10 5 6-3M293.600 400.600l8 4"/>
<path class="k" d="M292.400 404.400l10-6 3 5-10 6.600ZM294.400 407l9-6M293.600 405.600l9.400-6M296 409.600l8.600-5.600"/>
<path class="t" d="M296 401.800l3.600 6.400M299 400l3.400 6.400"/>
<path class="k" d="M302.2 377.0Q301.1 378.9 300.6 378.2M324.2 405.5Q323.5 405.9 324.8 408.6M325.3 407.3Q326.0 407.0 326.0 405.3M319.2 394.4Q321.1 396.8 320.5 397.0M314.4 385.5L317.1 383.8M326.1 394.5Q323.6 394.7 323.2 396.2M294.8 399.5Q294.0 402.5 294.2 402.6M300.6 390.4Q300.7 392.7 301.6 393.6M305.5 396.6Q305.4 396.9 307.0 395.6M317.0 382.8Q315.1 384.3 316.0 384.6M330.7 405.9L327.0 408.2M324.9 385.2Q325.1 387.9 325.9 387.9M323.6 388.2L323.1 389.9M309.5 381.5Q310.8 380.8 311.1 382.1M294.6 393.7Q294.7 396.8 294.6 398.2M311.6 383.0Q310.2 384.6 310.3 383.9M325.4 394.0Q325.6 393.5 327.6 394.5M308.7 411.3L306.5 408.2M312.3 376.6L313.3 380.6M329.1 387.1L326.9 383.8M324.8 395.3Q325.0 395.2 322.8 392.4M299.5 399.9L296.1 398.3M324.6 406.3L326.9 404.1M300.9 401.5L298.8 405.1M311.4 395.2L313.0 395.5M312.1 409.8Q312.1 409.2 310.6 408.6M314.2 389.0Q314.4 389.2 314.8 386.6M313.0 391.3Q315.3 388.9 315.4 388.3M299.9 379.0L297.4 379.1M328.3 403.2L330.7 403.2M312.0 403.4Q312.2 403.0 310.3 403.5M317.4 401.7L315.6 400.1M323.7 399.0L321.9 399.6M307.1 401.1Q308.6 400.8 308.3 402.4M328.2 388.6L325.9 387.4M296.6 389.9L298.5 389.1M305.7 385.5L307.3 385.8M325.4 407.0Q326.4 405.0 326.9 403.0M315.4 412.9Q316.0 411.3 315.7 408.5M322.1 399.2L323.2 397.1M308.8 398.4Q309.5 396.7 311.7 396.2M328.1 389.8Q326.2 389.5 324.9 392.1M300.2 395.8Q300.9 394.6 299.0 392.7M299.1 375.5L303.5 374.8M316.5 386.0Q318.8 387.8 318.5 387.3M302.3 385.5L304.2 384.8M319.5 396.1L321.8 395.5M299.1 376.8Q299.0 378.5 301.5 377.2M304.3 410.9L303.2 407.4M321.1 396.7L319.8 393.2M312.6 379.2Q312.4 379.1 314.2 376.8M303.0 389.4Q301.8 387.3 301.3 385.7M298.9 379.3Q300.3 377.7 301.3 376.1M320.6 412.2L323.0 411.2M325.5 397.9L328.1 399.9M304.9 400.4Q306.6 398.7 307.5 398.4M326.5 401.1L325.0 405.0M306.2 408.5L309.5 405.8M318.7 402.6L316.2 400.8M314.3 398.3Q315.1 400.6 314.3 400.4M331.2 408.1L329.7 408.1M317.3 399.4Q319.1 398.5 321.0 399.8M307.0 410.9Q306.7 409.2 307.0 406.9M319.9 406.5Q318.1 406.3 319.1 403.8M317.5 408.8Q316.8 408.9 316.0 411.8M303.3 384.9L304.9 384.0M299.5 376.6L300.5 380.7M327.7 394.1Q330.2 393.9 329.6 395.7M302.5 408.9Q304.4 410.8 305.9 411.8M322.9 380.4Q322.6 382.6 323.3 381.9"/>
<path class="h" d="M317.3 404.5L318.2 401.4M311.2 413.2Q310.1 411.1 309.3 410.6M314.2 397.3Q316.3 398.1 315.9 397.4M299.2 406.9Q298.6 409.0 300.9 408.8M301.2 381.9Q304.1 381.8 304.3 381.5M319.4 381.4L322.0 380.4M327.9 385.4Q326.0 385.5 326.8 386.6M319.4 387.1Q318.3 388.5 318.3 389.9M322.2 408.9Q323.9 407.6 325.2 409.3M322.5 412.6Q323.5 413.1 324.3 411.9M297.2 404.8Q299.0 402.1 298.1 401.8M306.3 398.9L308.0 397.9M314.3 386.0Q312.9 387.3 313.6 387.5M313.8 390.1L314.0 392.6M310.8 390.7Q312.3 392.3 313.8 391.8M298.1 404.1L300.6 403.3M297.2 391.3Q297.9 394.0 299.0 393.8M310.7 393.6Q310.3 391.4 310.4 391.4M330.4 399.6Q328.8 400.4 328.5 399.6M326.8 388.1L327.5 385.3M318.9 405.3Q318.0 407.1 317.1 407.3M319.9 385.2L322.4 384.4M302.8 401.5L299.9 402.2M324.1 387.6L322.4 385.3M306.7 408.8L308.5 406.9M330.3 394.9L328.8 394.6M329.6 393.1L328.6 390.5M299.7 406.2Q298.9 406.3 297.4 404.9M317.8 403.6Q319.1 402.9 319.4 403.8M319.8 399.7Q319.5 398.9 321.9 400.3M305.4 380.4Q305.2 381.3 305.8 381.6M316.0 382.8Q315.8 382.2 317.0 382.1M314.3 387.2L311.4 385.6M309.3 407.6Q309.0 407.0 308.1 406.0M316.7 387.7Q317.4 387.7 317.7 387.0M298.5 399.7Q298.5 398.4 300.1 398.4M316.2 383.8Q316.8 385.1 318.5 383.5M312.2 384.9L310.7 385.1M310.3 385.2Q310.7 383.0 310.9 382.2M329.5 406.2Q331.0 406.5 329.5 408.0"/>
<ellipse class="h" cx="320" cy="400.2" rx="5.2" ry="6" transform="rotate(15 320 400.2)"/>
<ellipse class="dd" cx="320.2" cy="400.4" rx="3.6" ry="4.4" transform="rotate(15 320.2 400.4)"/>
<ellipse class="k" cx="320.4" cy="400.4" rx="1.8" ry="2.4" transform="rotate(15 320.4 400.4)"/>
<path class="k" d="M332.400 386.600V409.400L318 416.400M326 394.400l6.400-3M311 376.400l10 4.600 11.400 5.600"/>
<path class="k" d="M328.800 396v14M332.400 398.600l-3.600 1.600"/>
<path class="k" d="M276.400 419.600L286.400 412.600M276.400 419.600V427.600L298 437.600V429.600ZM298 429.600L333.200 410.400V417.200L298 437.600"/>
<path class="k" d="M286 421.800L298 428.400 330 410.600M289 414.400L297.600 418.600V424.600"/>
<path class="h" d="M280.600 424.600l3 1.400M282.600 422.400l3 1.400"/>
<path class="dd" d="M301.600 431.600L331 415.400"/>
<path class="h" d="M303 432.600l8-4.400"/>
<path class="k" d="M333.200 412.600l2.400 2.400M331.600 416.400l3 1.600"/>
<ellipse class="k" cx="333.6" cy="414.6" rx="1.2" ry="1.6"/>
<path class="k" d="M298 418.600l14-7.600M312 411l4 2.400M305 415l3.600 2"/>
<path d="M265.0 439.6L281.5 431.8" fill="none" stroke="#2a2a2a" stroke-width="2.4" stroke-dasharray=".8 .8"/>
<path class="t" d="M264.6 438.600L281 430.800M265.600 440.600L282 432.800"/>
<path class="k" d="M281 430.800l1.800 1.200-.8 1"/>
<ellipse class="h" cx="255.8" cy="444.8" rx="1.6" ry="1.9"/>
<ellipse class="k" cx="256" cy="444.8" rx="0.6" ry="0.8"/>
<ellipse class="k" cx="261.3" cy="441.4" rx="1.4" ry="1" transform="rotate(-20 261.3 441.4)"/>
<path class="k" d="M306.8 438.0L311.8 435.0L342.4 464.4L338.0 468.6Z"/>
<path class="t" d="M309.400 437.600L340 466.800"/>
<ellipse class="h" cx="313.3" cy="437" rx="1" ry="1"/>
<ellipse class="h" cx="333.6" cy="456.4" rx="1" ry="1"/>
<ellipse class="k" cx="338.6" cy="462.8" rx="2.6" ry="3"/>
<ellipse class="k" cx="338.6" cy="462.8" rx="1.3" ry="1.6"/>
<path class="d" d="M313 453.200L318.300 451.200"/>
<ellipse class="k" cx="282.8" cy="466.8" rx="7.6" ry="4.2" transform="rotate(-8 282.8 466.8)"/>
<path class="k" d="M275.300 467.600v3.800q1.600 3.800 7.800 3.800 6-.6 7.300-4.400v-4"/>
<path class="k" d="M275.300 469.600q1.600 3.800 7.800 3.800 6-.6 7.300-4.400"/>
<path class="h" d="M277.400 467.200l9.600-3 1.600 1-9.600 3.200ZM279 468.400v2.400M287.600 465.600v2.400"/>
<path class="h" d="M276.400 465.600q.6-2.400 4-3.200"/>
<path class="k" d="M272.400 478.600v8.600l9 5.600v-9ZM272.400 478.600l2-1 3 1.400M281.400 483.800l10.400-3.400v9.600l-4 2-6.400 .8"/>
<path class="k" d="M281.400 492.800v6.400h5.800v-6.600M287.800 490.400l4-1.600M276.400 483.400l1.600 1M276 489.400l1.600 1"/>
<ellipse class="k" cx="283.6" cy="479" rx="4.4" ry="2"/>
<path class="t" d="M282 480.400q1.600 2.600 4 1.800"/>
<path class="t" d="M283.600 499.200v8.400M285 499.200v8.400"/>
<path class="k" d="M248.9 515.3L255.3 506.9A3.2 3.2 0 0 0 250.3 503.1L243.9 511.5A3.2 3.2 0 0 0 248.9 515.3Z"/>
<ellipse class="k" cx="249.2" cy="508.7" rx="1.7" ry="3" transform="rotate(36 249.2 508.7)"/>
<ellipse class="k" cx="246.4" cy="512.6" rx="0.6" ry="0.6"/>
<ellipse class="k" cx="252" cy="504.8" rx="0.6" ry="0.6"/>
<path class="k" d="M257.5 505.2L261.7 500.2A2.8 2.8 0 0 0 257.5 496.6L253.3 501.6A2.8 2.8 0 0 0 257.5 505.2Z"/>
<ellipse class="k" cx="257.4" cy="500.5" rx="1.4" ry="2.4" transform="rotate(38 257.4 500.5)"/>
<path class="k" d="M255.2 523.4L260.6 516.8A2.8 2.8 0 0 0 256.2 513.2L250.8 519.8A2.8 2.8 0 0 0 255.2 523.4Z"/>
<ellipse class="k" cx="255.6" cy="518" rx="1.5" ry="2.8" transform="rotate(38 255.6 518)"/>
<path class="d" d="M253.400 506.400l2.400-2.600M244.400 511l-1 3"/>
<path class="k" d="M257.500 526.100q.6-3.600 4-5.400l3.600-2.400 12 1.600 12.600 1.600q5 1.400 6 5.600l.4 4-3 5.400-4 3M257.500 526.100l2 6.100 8 6.200"/>
<path class="k" d="M261 529.400q3-3 7.600-2.800l16 2.600q3.600 1.400 4 4.400M265.600 531.400l-.4 7M289.600 535l-1.400 5.400"/>
<path class="k" d="M259.600 524.600q4-2.400 8 .6 2 3 .6 7"/>
<ellipse class="h" cx="276.8" cy="544.6" rx="10.8" ry="4.2"/>
<ellipse class="k" cx="276.8" cy="544.4" rx="7.6" ry="2.7"/>
<path class="k" d="M266 540.600q-1.400 2.600 .2 5.600M287.600 540.600q1.400 2.600-.2 5.600"/>
<path class="h" d="M271.6 518.8L273.4 518.3M274.0 517.1Q275.3 516.8 275.1 518.0M271.3 513.2Q273.8 510.6 273.2 510.5M276.4 516.9L275.9 518.3M266.5 518.9Q266.7 516.0 267.8 515.9M274.7 513.6L276.7 513.1M276.2 512.3L273.1 511.2M269.4 512.6L269.8 511.0M272.0 515.9L273.9 517.9M268.9 513.4Q268.5 513.5 271.0 512.0M269.3 514.9L268.9 517.5M268.8 510.5Q270.5 510.9 272.0 510.2M270.0 517.9Q270.3 516.9 272.5 517.3M266.6 510.9L267.3 513.8M275.4 520.1L275.9 518.8M265.8 518.4Q265.3 516.0 267.3 516.1"/>
<path class="h" d="M282.9 524.5Q282.5 525.1 282.1 525.9M287.3 519.1Q287.8 521.3 287.3 521.8M291.8 523.3L292.5 525.8M291.6 522.8L289.7 521.5M289.6 519.7L291.3 521.1M288.5 520.2L289.6 517.5M281.4 517.6L282.3 518.8M288.7 518.3L290.8 517.0M293.1 524.7Q292.1 525.6 290.0 524.2M284.3 520.9Q285.1 519.6 283.9 519.4M289.1 517.6L290.5 519.9M286.8 522.5Q286.6 522.9 284.8 521.7M286.8 521.0Q287.0 521.5 285.1 519.6M291.7 519.6L294.4 520.6M292.1 525.5L294.4 525.1M293.4 525.0Q293.9 522.9 293.9 523.5M285.3 523.7Q286.2 523.2 287.7 522.6M284.1 519.3Q284.8 519.9 284.4 520.8"/>
<path class="k" d="M285.0 532.8Q285.1 532.0 282.3 532.4M267.0 524.9Q265.8 525.5 266.9 527.2M272.6 529.5Q273.0 530.0 273.1 531.1M286.9 533.0L285.4 533.9M287.7 526.9L286.5 525.1M290.3 532.9L292.3 532.3M286.9 533.0L285.4 534.2M265.6 531.6Q265.7 531.6 268.2 531.7M279.0 526.5L281.9 524.3M266.4 525.3Q264.4 526.7 263.6 527.2M265.4 522.0Q263.7 521.3 262.3 521.9M264.9 523.6Q265.0 526.0 264.3 526.2M284.0 530.5L286.5 530.6M281.4 529.8L283.3 529.3M268.7 528.9Q268.7 527.2 268.7 527.0M285.2 525.3Q282.6 526.3 282.6 525.2"/>
<path class="h" d="M265.600 517.600l3-3.600 3 1.400v4.600M268.600 514v6M272.600 516.600l5 1 .6 4.600M278.400 519.400l6-.4 1 4M284.400 519l2.400-3 4 1 1.600 4M290.800 517l2 5.600"/>
<path class="k" d="M266 512.600l2.600 1.600M271.600 510.600v4.600M287.400 513.600l-.6 2.600M292.600 524.600l2.800 1.600M276.400 531.400l4 8M280.400 531.600l-2 9M284 533l.6 7M271 531l-.6 8"/>
<ellipse class="h" cx="289.4" cy="521.4" rx="1.8" ry="1.4"/>
<ellipse class="k" cx="279" cy="536.4" rx="1.4" ry="2"/>
<path class="gk" d="M182.9 539.9L189.1 529.3A1.7 1.7 0 0 0 186.1 527.5L179.9 538.1A1.7 1.7 0 0 0 182.9 539.9Z"/>
<path class="gk" d="M192.9 533.6L199.7 521.4A1.7 1.7 0 0 0 196.7 519.8L189.9 532.0A1.7 1.7 0 0 0 192.9 533.6Z"/>
<path class="gk" d="M188.7 548.1L196.9 538.9A1.7 1.7 0 0 0 194.3 536.7L186.1 545.9A1.7 1.7 0 0 0 188.7 548.1Z"/>
<ellipse class="k" cx="184.5" cy="533.7" rx="0.9" ry="1.8" transform="rotate(32 184.5 533.7)"/>
<ellipse class="k" cx="194.8" cy="526.7" rx="0.9" ry="1.8" transform="rotate(32 194.8 526.7)"/>
<ellipse class="k" cx="191.5" cy="542.4" rx="0.9" ry="1.8" transform="rotate(40 191.5 542.4)"/>
<path class="h" d="M200.0 531.0L204.0 527.6L210.0 528.6L213.0 532.0L211.6 538.0L206.0 540.6L200.6 538.0Z"/>
<path class="h" d="M210.6 537.9L209.9 536.5M205.6 535.2L207.1 536.2M204.2 532.1Q201.7 531.8 202.2 532.3M203.9 534.6Q202.4 534.6 201.6 533.7M203.9 530.4Q206.0 531.7 205.3 530.4M208.7 536.3L208.1 534.4M205.4 533.4L203.7 535.0M208.1 534.2L206.1 536.4M208.6 528.7Q207.5 529.3 206.8 530.2M201.8 538.5Q201.7 538.6 203.1 537.4M202.8 537.2L204.0 536.5M209.1 535.7Q209.8 534.0 208.1 534.3M205.1 533.9L204.7 535.5M201.0 530.3L202.8 530.0M208.0 536.5Q208.3 536.9 209.5 534.3M211.8 533.2L211.4 535.1M201.4 530.3Q202.7 531.0 202.5 529.3M205.5 534.1Q206.2 532.4 204.9 532.4M211.7 534.9Q211.0 533.8 208.7 534.4M202.6 532.0Q202.8 531.7 204.6 531.8M205.2 535.4Q204.1 536.1 204.7 534.1M202.8 537.6L202.4 535.8"/>
<path class="k" d="M200.6 536.0L201.3 537.7M211.7 530.6L210.3 531.1M204.5 535.1Q205.0 537.7 205.7 537.7M207.8 531.8L208.1 534.6M208.2 534.8Q209.7 534.9 209.4 534.1M208.1 536.1Q208.3 535.6 205.9 536.5M203.3 531.7L204.6 533.6M200.9 530.9L202.1 529.7M205.4 529.7Q206.8 528.9 207.7 529.3M205.7 535.8Q205.5 535.4 205.5 534.4M206.0 528.4L205.8 530.8M208.0 535.2Q206.8 534.5 206.8 535.7M206.6 536.9Q206.2 538.3 208.2 537.4M207.6 530.7L205.5 529.0"/>
<path class="h" d="M202 528.600l2.400-2.400 3 1.400M208 527.600l2-2 2.400 1.600"/>
<path class="k" d="M214.400 521.800L214.800 541.400L209 548.400"/>
<path class="h" d="M213 521.400l3 .8M212.600 526l3.600 4"/>
<path d="M205.800 540.600V548" stroke="#1a1a1a" stroke-width="1.300" fill="none"/><path class="fk" d="M204.400 546.600h2.800l-1.400 3Z"/>
<path d="M23.600 489.600L37.800 507.400" stroke="#1a1a1a" stroke-width="2.300" stroke-linecap="round" fill="none"/>
<path class="t" d="M24.400 489L38.600 506.800"/>
<path class="k" d="M68.400 480.800v13.600q.2 1.600 1.400 2.600l3.600 3M70.200 480.800v13q.2 1 1 1.800l3.600 3"/>
<ellipse class="k" cx="69.3" cy="480.6" rx="0.9" ry="0.5"/>
<path class="k" d="M73.400 500l1.600-1.800"/>
<path class="h" d="M87 493.200q1.600-1.400 3.400-.2L101.600 506.600q1.400 2 .4 4L93.400 516.600q-2 1-3.600-.4L81.400 507.400q-1.400-1.800-.4-3.600Z"/>
<path class="d" d="M88 496l-4.600 8.600 6.800 8.800 8.600-4.400Z"/>
<ellipse class="k" cx="89.4" cy="505.6" rx="4.6" ry="6.8" transform="rotate(-28 89.4 505.6)"/>
<ellipse class="k" cx="90" cy="506" rx="3" ry="5" transform="rotate(-28 90 506)"/>
<path class="t" d="M88.400 503.600l2.400 1.400-1 3.600M91.400 493.600l9 11.600M93 493.200l8.600 11"/>
<path class="dd" d="M92 495l8.800 11.400"/>
<path class="k" d="M95.600 513.600l5.600-3 1.600 1.600-6 3.400ZM82.400 509.600l-1 2 6 6.800"/>
<ellipse class="k" cx="87.4" cy="496" rx="0.8" ry="0.8"/>
<ellipse class="k" cx="83.6" cy="505.4" rx="0.8" ry="0.8"/>
<ellipse class="k" cx="92" cy="514" rx="0.8" ry="0.8"/>
<path class="gk" d="M105.5 481.5L116.0 486.8L120.8 503.8L114.2 506.4L101.2 495.1L100.7 491.0L103.0 484.6Z"/>
<path class="t" d="M105.5 481.5L116.0 486.8L120.8 503.8L114.2 506.4L101.2 495.1L100.7 491.0L103.0 484.6Z"/>
<path class="k" d="M143.600 506.800q2-1.400 3.600 0 2.400 2.200 7 2.200 6.400 0 10 4.800 1.800 2.800-.4 4.200-2.400 .8-3.800-1.400-1.800-3-6.400-3.400-6.400-.2-9.800-2.800-1.800-2-.2-3.600Z"/>
<ellipse class="k" cx="144.6" cy="508.6" rx="1" ry="1.3"/>
<ellipse class="k" cx="162.8" cy="515.6" rx="1" ry="1.3"/>
<path class="t" d="M147.400 507.600q3 2.600 8 2.400"/>
<path class="h" d="M66.400 516.600L75.600 514.600"/>
<path class="k" d="M66.400 518L75.800 516"/>
<ellipse class="k" cx="65.4" cy="517.8" rx="1.4" ry="1.8"/>
<ellipse class="k" cx="75.8" cy="515.3" rx="0.8" ry="1"/>
<path class="h" d="M70.200 518.400L72.100 530.500"/>
<path class="k" d="M41.400 524.600l3-2.200 1 1.400-3 2.200ZM46 527.400l2.400-1.600M47.400 529.800l2.400-1.600"/>
<ellipse class="k" cx="49.6" cy="526.4" rx="0.8" ry="0.6"/>
<ellipse class="t" cx="45" cy="524" rx="0.6" ry="0.6"/>
<path d="M31.5 557.9L47.5 549.4" fill="none" stroke="#2a2a2a" stroke-width="1.9" stroke-dasharray=".8 .8"/>
<path d="M36.2 561.6L54.1 552.8" fill="none" stroke="#2a2a2a" stroke-width="1.9" stroke-dasharray=".8 .8"/>
<path class="k" d="M25 557l4.400-1.600 4 2.600 2.600 4.800v6l-2.600-.8-.6-3.600-2.600-2.400-2.400 .6-2.400-1.600Z"/>
<path class="h" d="M26.600 558.600v4.600M29.600 559v5M33.400 562.600l.4 3.600"/>
<path class="k" d="M90.500 538.200L118 530.200q3.400-1.600 5.600-.4L139.600 535.600q3 1 3.800 4.400"/>
<path class="h" d="M88.400 536.600l3 2.600 5.600-.6M120 529.600l3.600-1.400 1.600 1.600-2.400 4"/>
<path class="dd" d="M92.600 539.600L120.600 531.600"/>
<path class="k" d="M90.500 538.200q-4 1.400-5.600 5L81.600 552l-4.200 5.600V582l10.200 8.200 11.200 9.200"/>
<path class="k" d="M86 541.400L97.600 553.400 120 549.400 143.400 540.400"/>
<path class="t" d="M87.400 540L98.400 551.600 120 547.800 142 539.400"/>
<path class="k" d="M97.600 553.400V599.400M99.200 553V599.600M120 549.400V602.300"/>
<path class="k" d="M98.700 599.400L120 602.300L126.400 599"/>
<path class="k" d="M143.400 540V566q-1.600 8-8 17l-7.600 14.600-1.400 1.400"/>
<path class="h" d="M141.600 545.600l1.600-2 .2 4M141.200 566.400l2-2.600"/>
<ellipse class="k" cx="105.8" cy="546.4" rx="5.6" ry="3" transform="rotate(-5 105.8 546.4)"/>
<ellipse class="t" cx="105.8" cy="546.4" rx="4" ry="2" transform="rotate(-5 105.8 546.4)"/>
<ellipse class="k" cx="124.7" cy="593.2" rx="2.3" ry="3.8" transform="rotate(15 124.7 593.2)"/>
<ellipse class="k" cx="124.9" cy="593.4" rx="1.2" ry="2.4" transform="rotate(15 124.9 593.4)"/>
<path class="k" d="M131 558.600h2.800v8l-2.800 1M130.200 567.600l3-1"/>
<path class="t" d="M115.400 583.400h2.400v2h-2.400ZM104.600 594.400h1.400M108.400 594.600h1.400M112 594.800h1.400"/>
<ellipse class="k" cx="99.6" cy="580.4" rx="0.8" ry="1.4"/>
<path class="k" d="M124.400 611.600q.4-3 4-3 3 0 3.200 3v7q-.6 2.400-3.600 2.400-3.200-.2-3.600-2.600Z"/>
<ellipse class="k" cx="126.6" cy="613.6" rx="1.6" ry="3"/>
<path class="h" d="M124.400 611l-1.600-3.600 2.400-1.400 1.400 2.400M125.200 606l.2-1.600"/>
<path class="t" d="M128.600 608.600v12"/>
<path d="M71.6 620.2L82.6 628.2" fill="none" stroke="#2a2a2a" stroke-width="2.6" stroke-dasharray=".8 .8"/>
<path class="k" d="M82.19999999999999 625.8000000000001l5 1.600 1.400 6-3.600 1.400-4.400-2.600Z"/>
<path class="h" d="M84.19999999999999 626.6l1.400 7M87.19999999999999 627.4000000000001l1 6.400"/>
<path class="k" d="M83.6 632.6l2.400 4"/>
<path d="M64.4 628.4L75.4 636.4" fill="none" stroke="#2a2a2a" stroke-width="2.6" stroke-dasharray=".8 .8"/>
<path class="k" d="M75.0 634.0l5 1.600 1.400 6-3.600 1.400-4.400-2.600Z"/>
<path class="h" d="M77.0 634.8l1.400 7M80.0 635.6l1 6.400"/>
<path class="k" d="M76.4 640.8l2.400 4"/>
<path class="k" d="M156 575.600L174.600 568.600q2.600-.6 3 1.600V574M156 575.600V586l2.800 1.600v-9.600L175 571.600M158.800 578l-2.800-2.400"/>
<path class="k" d="M169 570.800l1 3M172 571.400l4-1.400M174.600 574l3-1"/>
<ellipse class="k" cx="172.4" cy="573.6" rx="0.9" ry="0.7"/>
<path class="k" d="M165 596.400l6-2 3 1.400v8.400l-6 2-3-1.400ZM165 596.400l3 1.400 6-2M168 597.800v8.400"/>
<path class="h" d="M169.400 599.400l3.400-1.200v5.400l-3.400 1.200Z"/>
<path class="dd" d="M154.200 595.200q1.600 3-1 6.600-3 3.400-3.600 5.200.2 3 4.200 5.600"/>
<ellipse class="k" cx="154.2" cy="594.8" rx="0.8" ry="0.8"/>
<path class="k" d="M157 613.600q1.600-4 6.400-4.200 4 .6 4.400 4l-2 5.600-4 2q-4-.6-5-4Z"/>
<ellipse class="h" cx="159.4" cy="615.6" rx="2.4" ry="4.4" transform="rotate(15 159.4 615.6)"/>
<ellipse class="k" cx="160" cy="615.8" rx="1.3" ry="3" transform="rotate(15 160 615.8)"/>
<path class="k" d="M163.600 609.600l2.600 3.600-1.400 5.600M165.800 616.600l2-.6"/>
<path d="M204.400 592.600l8-3.400M206.800 596.600l7.400-3.600M241 581.600l9.600-1.400" stroke="#1a1a1a" stroke-width="1.900" stroke-linecap="round" fill="none"/>
<path class="k" d="M212.400 589.200q8-8 15.600-9.600M214.200 593q10-8.600 27-11.400M213 591q10-7.600 22-9"/>
<path class="dd" d="M214 594.400q14-8 30-11.200"/>
<ellipse class="h" cx="229.6" cy="578.8" rx="2.3" ry="1.5" transform="rotate(-25 229.6 578.8)"/>
<path class="h" d="M218.400 593.200q6-4 11-3.200 3 .6 5 2.400"/>
<path class="t" d="M221 591.400l16-5.600"/>
<path class="k" d="M263.3 592.9L272.0 588.5L291.2 595.5L282.4 599.9Z"/>
<path class="k" d="M263.300 592.900q.4 6.600 4.400 11.400L280.800 612.100V599.900M291.200 595.500V606.900l-2.400 1.200v-3.600l-2.400 1.200v3.400L280.800 612.100"/>
<path class="dd" d="M272 588.500L272.400 594.600 282 598.400"/>
<path class="d" d="M272.400 594.600l-8 1.600"/>
<ellipse class="k" cx="271.4" cy="591.6" rx="1" ry="0.7"/>
<ellipse class="k" cx="282.4" cy="596.4" rx="1" ry="0.7"/>
<ellipse class="k" cx="275.4" cy="602.6" rx="0.6" ry="0.8"/>
<ellipse class="k" cx="275.8" cy="606.6" rx="0.6" ry="0.8"/>
<path class="h" d="M280 610.600l1.600 2"/>
<path class="k" d="M354.5 471.9L381.4 455.9L417.0 476.3L390.9 491.5Z"/>
<path class="k" d="M354.500 471.900V490.100L390.900 510.400V491.500M417 476.300V494.400L390.900 510.400"/>
<path class="t" d="M356 472.400L381.600 457.400 415.400 476.600"/>
<path class="k" d="M357.3 473.4L384.1 457.5"/>
<path class="k" d="M360.1 474.9L386.9 459.0"/>
<path class="dd" d="M373.5 467.0L386.9 459.0"/>
<path class="k" d="M362.9 476.4L389.6 460.6"/>
<path class="k" d="M365.7 477.9L392.4 462.2"/>
<path class="dd" d="M379.0 470.1L392.4 462.2"/>
<path class="k" d="M368.5 479.4L395.1 463.7"/>
<path class="k" d="M371.3 480.9L397.8 465.3"/>
<path class="dd" d="M384.6 473.1L397.8 465.3"/>
<path class="k" d="M374.1 482.5L400.6 466.9"/>
<path class="k" d="M376.9 484.0L403.3 468.5"/>
<path class="dd" d="M390.1 476.2L403.3 468.5"/>
<path class="k" d="M379.7 485.5L406.0 470.0"/>
<path class="k" d="M382.5 487.0L408.8 471.6"/>
<path class="dd" d="M395.6 479.3L408.8 471.6"/>
<path class="k" d="M385.3 488.5L411.5 473.2"/>
<path class="k" d="M388.1 490.0L414.3 474.7"/>
<path class="dd" d="M401.2 482.4L414.3 474.7"/>
<path class="d" d="M359.0 469.2L395.2 489.0"/>
<path class="t" d="M363.5 466.6L399.6 486.4"/>
<path class="d" d="M367.9 463.9L403.9 483.9"/>
<path class="t" d="M372.4 461.2L408.3 481.4"/>
<path class="d" d="M376.9 458.6L412.6 478.8"/>
<path class="k" d="M358.600 476v9.600M361.600 477.600v5.600q2 2.400 0 5M365 479.600v11M368.400 481.400v11M372 483.400v11M375.600 485.400v5q2.400 2.600 0 6M379.400 487.400v13M383 489.400v14M386.600 491.400v15"/>
<path class="h" d="M359.600 476.600v9M366 480.200v10.400M373 484v10.600M380.400 488v12.400M387.600 492v14"/>
<ellipse class="k" cx="361.6" cy="487.6" rx="1.9" ry="2.6"/>
<ellipse class="k" cx="377.6" cy="497.6" rx="2" ry="2.8"/>
<path class="h" d="M389.200 492.600v16.600"/>
<path class="k" d="M394.400 496.4L414.400 484.8"/>
<path class="dd" d="M394.400 499.0L414.400 487.4"/>
<path class="k" d="M394.400 501.6L414.400 490.0"/>
<path class="dd" d="M394.400 504.2L414.400 492.6"/>
<path class="k" d="M394.400 506.8L414.400 495.2"/>
<path class="t" d="M393 494.800v12.600M415.600 480v12.400"/>
<ellipse class="h" cx="386.8" cy="506" rx="0.7" ry="1.1"/>
<path class="k" d="M339.0 523.5L354.5 514.7Q357.5 513.1 360.5 514.9L393.5 532.9Q396.5 534.7 395.5 537.7"/>
<path class="d" d="M339.0 523.5L354.5 514.7Q357.5 513.1 360.5 514.9L393.5 532.9"/>
<path class="k" d="M339.0 523.5Q336.0 525.1 336.6 528.1L337.4 541.6L352.0 551.0l2.4 -3.4 3.0 5.4L372.3 564.3"/>
<path class="k" d="M337.6 526.5L371.1 546.1Q374.1 547.9 377.1 545.7L395.5 536.5"/>
<path class="k" d="M395.5 537.7L395.9 552.1Q395.9 554.5 392.9 555.5L375.3 563.7Q372.3 565.3 369.3 562.9"/>
<path class="k" d="M371.7 547.5q-1.6 3.0 -1.4 8.0l0.4 8.0M377.1 546.9q1.4 2.0 1.4 6.0l0 10.0"/>
<path class="h" d="M353.5 527.0l9.6 -5.4"/>
<path class="k" d="M355.5 528.0l9.6 -5.4"/>
<path class="h" d="M357.5 529.1l9.6 -5.4"/>
<path class="k" d="M359.5 530.1l9.6 -5.4"/>
<path class="h" d="M361.5 531.2l9.6 -5.4"/>
<path class="k" d="M363.5 532.2l9.6 -5.4"/>
<path class="h" d="M365.5 533.3l9.6 -5.4"/>
<path class="k" d="M367.5 534.4l9.6 -5.4"/>
<path class="h" d="M369.5 535.4l9.6 -5.4"/>
<path class="h" d="M363.2 529.6l2.4 -3.4 2.4 3.4M362.6 526.6l6 3"/>
<path class="d" d="M352.6 526.4L363.0 520.6L379.4 529.6L369.0 535.8Z"/>
<ellipse class="k" cx="341.8" cy="539.9" rx="2.3" ry="3.0"/>
<ellipse class="k" cx="365.7" cy="553.8" rx="2.3" ry="3.0"/>
<path class="h" d="M352.3 547.7l2.600-4.400 2.600 6.400M353.5 548.1l1.400-3 1.400 4.400"/>
<path class="k" d="M379.6 546.2L394.4 538.0"/>
<path class="dd" d="M379.6 548.5L394.4 540.3"/>
<path class="k" d="M379.6 550.8L394.4 542.6"/>
<path class="dd" d="M379.6 553.1L394.4 544.9"/>
<path class="k" d="M379.6 555.4L394.4 547.2"/>
<path class="k" d="M331.2 576.0L346.7 567.2Q349.7 565.6 352.7 567.4L385.7 585.4Q388.7 587.2 387.7 590.2"/>
<path class="d" d="M331.2 576.0L346.7 567.2Q349.7 565.6 352.7 567.4L385.7 585.4"/>
<path class="k" d="M331.2 576.0Q328.2 577.6 328.8 580.6L329.6 594.1L344.2 603.5l2.4 -3.4 3.0 5.4L364.5 616.8"/>
<path class="k" d="M329.8 579.0L363.3 598.6Q366.3 600.4 369.3 598.2L387.7 589.0"/>
<path class="k" d="M387.7 590.2L388.1 604.6Q388.1 607.0 385.1 608.0L367.5 616.2Q364.5 617.8 361.5 615.4"/>
<path class="k" d="M363.9 600.0q-1.6 3.0 -1.4 8.0l0.4 8.0M369.3 599.4q1.4 2.0 1.4 6.0l0 10.0"/>
<path class="h" d="M345.7 579.5l9.6 -5.4"/>
<path class="k" d="M347.7 580.5l9.6 -5.4"/>
<path class="h" d="M349.7 581.6l9.6 -5.4"/>
<path class="k" d="M351.7 582.6l9.6 -5.4"/>
<path class="h" d="M353.7 583.7l9.6 -5.4"/>
<path class="k" d="M355.7 584.8l9.6 -5.4"/>
<path class="h" d="M357.7 585.8l9.6 -5.4"/>
<path class="k" d="M359.7 586.9l9.6 -5.4"/>
<path class="h" d="M361.7 587.9l9.6 -5.4"/>
<path class="h" d="M355.4 582.1l2.4 -3.4 2.4 3.4M354.8 579.1l6 3"/>
<path class="d" d="M344.8 578.9L355.2 573.1L371.6 582.1L361.2 588.3Z"/>
<ellipse class="k" cx="334.0" cy="592.4" rx="2.3" ry="3.0"/>
<ellipse class="k" cx="357.9" cy="606.3" rx="2.3" ry="3.0"/>
<path class="h" d="M344.5 600.2l2.600-4.400 2.600 6.400M345.7 600.6l1.400-3 1.400 4.400"/>
<path class="k" d="M371.8 598.7L386.6 590.5"/>
<path class="dd" d="M371.8 601.0L386.6 592.8"/>
<path class="k" d="M371.8 603.3L386.6 595.1"/>
<path class="dd" d="M371.8 605.6L386.6 597.4"/>
<path class="k" d="M371.8 607.9L386.6 599.7"/>
<path class="k" d="M334.600 599.600l-5 7.600q-2.600 2.400-6 2.800l-2.600 2.400 1 3 6.400 1.400 8-2 4.400-4.400-.6-3.600"/>
<path class="k" d="M341.400 603.600l-4.600 6.400q-2 2-4.600 2.400M327.600 611.600q3 2 7 .6"/>
<ellipse class="k" cx="324.4" cy="613.6" rx="0.9" ry="0.9"/>
<ellipse class="k" cx="338.6" cy="612.4" rx="0.9" ry="0.9"/>
<path class="t" d="M322 612.400l4 2.400 7-.4 5-2.600"/>
<path class="k" d="M369.400 625.600q-1.400 3.600 1.400 5.400 3.400 1.400 6.400-1.600l5-6.800 2.400-5"/>
<path class="k" d="M369.400 625.600q1.600-1.600 3 .4M382.600 621.600l2.400-.6"/>
<path class="d" d="M377.600 628.600l5.600-8"/>
<path class="k" d="M395.600 603.600l12.600-6.600 1.400 1v9l-4 8-9.400 3.600Z"/>
<path class="h" d="M396.400 605.6L408.800 599.6"/>
<path class="k" d="M396.400 607.9L408.800 601.9"/>
<path class="h" d="M396.400 610.2L408.800 604.2"/>
<path class="k" d="M396.400 612.5L408.800 606.5"/>
<path class="h" d="M396.400 614.8L408.800 608.8"/>
<path class="k" d="M396.400 617.1L408.800 611.1"/>
<path class="k" d="M399 617.600l-4.400 5.600 3 .6 3-3.600 3.600 1.400 1.400-4"/>
<path class="t" d="M409.600 598l-1 12"/>
<ellipse class="k" cx="443.2" cy="518.4" rx="19.6" ry="26.4" transform="rotate(22 443.2 518.4)"/>
<ellipse class="d" cx="442.59999999999997" cy="519.0" rx="20.6" ry="27.2" transform="rotate(22 442.59999999999997 519.0)"/>
<ellipse class="k" cx="443.8" cy="517.1999999999999" rx="5.4" ry="8.6" transform="rotate(22 443.8 517.1999999999999)"/>
<ellipse class="t" cx="444.2" cy="517.4" rx="9" ry="13" transform="rotate(22 444.2 517.4)"/>
<path class="h" d="M452.1 522.0L459.1 528.3"/>
<path class="k" d="M450.8 524.5L456.3 532.7"/>
<path class="k" d="M449.3 526.8L453.0 536.5"/>
<path class="h" d="M447.4 528.7L449.2 539.5"/>
<path class="k" d="M445.4 530.2L445.2 541.6"/>
<path class="k" d="M443.2 531.1L441.1 542.7"/>
<path class="h" d="M441.1 531.5L437.1 542.6"/>
<path class="k" d="M439.1 531.3L433.3 541.6"/>
<path class="k" d="M437.2 530.6L430.0 539.5"/>
<path class="h" d="M435.6 529.3L427.3 536.5"/>
<path class="k" d="M434.3 527.5L425.2 532.7"/>
<path class="k" d="M433.5 525.4L424.0 528.3"/>
<path class="h" d="M433.0 522.9L423.5 523.4"/>
<path class="k" d="M433.0 520.2L424.0 518.4"/>
<path class="k" d="M433.4 517.5L425.3 513.3"/>
<path class="h" d="M434.3 514.8L427.3 508.5"/>
<path class="k" d="M435.6 512.3L430.1 504.1"/>
<path class="k" d="M437.1 510.0L433.4 500.3"/>
<path class="h" d="M439.0 508.1L437.2 497.3"/>
<path class="k" d="M441.0 506.6L441.2 495.2"/>
<path class="k" d="M443.2 505.7L445.3 494.1"/>
<path class="h" d="M445.3 505.3L449.3 494.2"/>
<path class="k" d="M447.3 505.5L453.1 495.2"/>
<path class="k" d="M449.2 506.2L456.4 497.3"/>
<path class="h" d="M450.8 507.5L459.1 500.3"/>
<path class="k" d="M452.1 509.3L461.2 504.1"/>
<path class="k" d="M452.9 511.4L462.4 508.5"/>
<path class="h" d="M453.4 513.9L462.9 513.4"/>
<path class="k" d="M453.4 516.6L462.4 518.4"/>
<path class="k" d="M453.0 519.3L461.1 523.5"/>
<path class="h" d="M424.600 528q3 12 13 15.600"/>
<path class="k" d="M463.600 532.600q2-4 8-4.400 5.600 .4 6.800 3.600l.4 5q-1.400 4.600-7 5.600-6.400-.4-8.600-4Z"/>
<path class="h" d="M463.600 532.600q3 3.600 8.600 3.400 5-1 6.200-4.200M466.600 534.400l.6 6M472.800 536l.4 6M468.600 529l2 3.400 5-1.400"/>
<path class="k" d="M463.200 538.400l-1.600-.6.4-4.600"/>
<circle cx="483" cy="543.8" r="2.100" fill="#333"/><circle cx="483.2" cy="543.8" r=".8" fill="#fff"/>
<path class="t" d="M475.2 520.1L505.7 502.7L524.9 514.0L493.5 530.6Z"/>
<path class="dd" d="M475.2 520.1L505.7 502.7"/>
<path class="k" d="M477.5 521.4L508.1 504.1"/>
<path class="dd" d="M479.8 522.7L510.5 505.5"/>
<path class="k" d="M482.1 524.0L512.9 506.9"/>
<path class="dd" d="M484.4 525.4L515.3 508.4"/>
<path class="k" d="M486.6 526.7L517.7 509.8"/>
<path class="dd" d="M488.9 528.0L520.1 511.2"/>
<path class="k" d="M491.2 529.3L522.5 512.6"/>
<path class="dd" d="M493.5 530.6L524.9 514.0"/>
<path class="k" d="M505.700 502.700l.4 4 18.800 10.400M475.200 520.100l.6 2.600 17.600 10"/>
<ellipse class="h" cx="505.6" cy="516.4" rx="1.3" ry="1.6"/>
<path class="h" d="M508.600 512.600l2.400-1.400M509.600 514.600l2-1"/>
<path class="k" d="M430 457.400l4-2.800 5.600 1.600L441 451.600q12-5.400 24.600-7.200l1.600 .4L476 451.400l.4 2-16.800 10.400q-2.400 6-3 12.400l-1.400.6-9-8-5.600-2.600-5-5.200Z"/>
<path class="k" d="M441 451.600l5.600 4.600 13 7.600M466.600 444.800L447 456.600"/>
<path class="t" d="M450.600 459.200l-1 4.600 6 5M446.600 456.200l-4.600 4"/>
<ellipse class="h" cx="474.4" cy="452.6" rx="1.2" ry="1"/>
<ellipse class="k" cx="455.6" cy="474.4" rx="0.8" ry="1"/>
<ellipse class="k" cx="438.6" cy="454.6" rx="0.7" ry="0.7"/>
<path class="k" d="M436.600 450.600l2.400 1.600M439 448.400l-1 2"/>
<path class="k" d="M492.400 544.600L516.300 538.100 519.200 538.100 524.800 533.800 527.800 535.800 526.400 539.600 538.100 550.400Q543 555 543.200 563 542.600 574 536 583 530 590 523.600 592.400 516 597 509 597L498.900 593.300 491.600 597.200V589L487.300 577.300Q485.400 570 486.500 562.800 488 552 492.400 544.600Z"/>
<path class="h" d="M524.800 533.800l.8 4M492.400 544.600l1-3 1.600 1M526 534.600l-4.400 4"/>
<path class="k" d="M526.400 546.400Q539 551 540.200 564 540 577 532 586 526 592 519 593.600"/>
<ellipse class="k" cx="522.6" cy="572.2" rx="14.6" ry="20.6" transform="rotate(18 522.6 572.2)"/>
<ellipse class="k" cx="520.8" cy="573.8" rx="12" ry="17.6" transform="rotate(18 520.8 573.8)"/>
<path class="t" d="M529 553.600Q536.600 559 536.600 569"/>
<path class="k" d="M496.0 548.3L516.3 539.5L526.5 550.4L504.0 557.0Z"/>
<path class="k" d="M504 557V590.600M496 548.300L494.600 584M498.900 593.300L504 590.600"/>
<path class="d" d="M504 557l6-1.600M505.400 560q-1.600 14 1.600 30M508.600 558.600q-2 14 2 32"/>
<path class="h" d="M512.600 566l4-2M511.400 583.600l3 3M527.600 584.600l2.400 2M536.400 570.600l1.600 1M526.600 549.600l1 3.400"/>
<path class="t" d="M512 585l14-6M527.600 558q-6 8-14.600 10.800M515.600 588.600L531.400 581"/>
<path class="k" d="M491.600 589l6.400 3.600"/>
<path class="d" d="M548.400 604.600l-3.600-2.400Q540.400 592 544.600 579.600 549 568.600 557 564.400 566 561.600 572 568 577.200 576 575.600 588 572.400 600 565 606.400 558 611 551.600 607.600l.6-2.400-3-1.400Z"/>
<ellipse class="d" cx="559.4" cy="585.4" rx="9.4" ry="14" transform="rotate(18 559.4 585.4)"/>
<path class="k" d="M555.400 567.600l1.400 2.400M574.400 583l-2.400 .6"/>
<path class="k" d="M598.700 586.400Q606 591 610.800 598.500 612.400 601 611.700 604.100L605.200 621.700Q603.600 624.400 601 625.600L590.300 629.200Q587.600 627.600 585.700 624.500L586.600 608.600Q587.400 602 590.400 598.400 594 591 598.700 586.400Z"/>
<path class="h" d="M598.700 586.400Q594 585.400 591.300 586.900 586 590 582 594.800 575 604 573.600 614.300 573.400 619 575.400 622.700 579 627.400 585 629.400L590.300 629.200"/>
<path class="dd" d="M576 612q2-10 9-18"/>
<ellipse class="k" cx="597.8" cy="610.6" rx="6" ry="8.8" transform="rotate(15 597.8 610.6)"/>
<path class="h" d="M582 594.800l7.400 6M578.400 601l8.600 3.600M575.600 608l11 1.600M574.200 615.600l12.400-1M576.400 622.600l9.600-2.600M586 590.400l6 5.400M591.600 587.200l3.600 4.600"/>
<path class="k" d="M580 626.600l6-2.400M583.600 628.600l3.600-2.600"/>
<path class="t" d="M589 592.600l3 1.600-1.600 3M579.600 606.600l3 .6-.4 3.400M578 618.600l3-.4 .6 3"/>
<ellipse class="k" cx="609.8" cy="585.9" rx="3.6" ry="13" transform="rotate(-52 609.8 585.9)"/>
<ellipse class="k" cx="609.8" cy="585.9" rx="1.7" ry="11" transform="rotate(-52 609.8 585.9)"/>
<path d="M601.4 579.4L618.4 592.6" fill="none" stroke="#333" stroke-width="3.4" stroke-dasharray=".6 1"/>
<path class="k" d="M600 577.600l-1.400 3 2 2.600M619.400 595l2-1.400"/>
<path class="k" d="M612.100 507.900L629.800 518.100"/>
<path class="k" d="M585.100 545.100L593.500 539.500 629.800 518.100V539.500q-1 5-4.700 8.600-14-2.600-24.400 8.600L597.200 563.700 585.100 569.300Z"/>
<path class="t" d="M627 548.600q-13-1.600-23 8.200l-3.600 6"/>
<path class="k" d="M613 519.400l4.400 4.600-4 2.400Z"/>
<ellipse class="k" cx="595.4" cy="550.6" rx="2" ry="3.2" transform="rotate(25 595.4 550.6)"/>
<ellipse class="k" cx="587.4" cy="548.6" rx="0.5" ry="0.6"/>
<ellipse class="k" cx="587.6" cy="560.6" rx="0.5" ry="0.6"/>
<path class="h" d="M600.600 561.600l1.600-3"/>
<path class="h" d="M642.4 590.4l1.800 1.200"/>
<path class="h" d="M648.2 588.2l1.800 1.200"/>
<path class="h" d="M648.6 595l1.800 1.200"/>
<rect x="37.7" y="169.6" width="10.6" height="8.8" fill="#d6f0f5" stroke="#4fa5b3" stroke-width="1.2"/>
<rect x="166.0" y="176.1" width="10.6" height="8.8" fill="#d6f0f5" stroke="#4fa5b3" stroke-width="1.2"/>
<rect x="228.9" y="189.4" width="10.6" height="8.8" fill="#d6f0f5" stroke="#4fa5b3" stroke-width="1.2"/>
<rect x="227.9" y="219.8" width="10.6" height="8.8" fill="#d6f0f5" stroke="#4fa5b3" stroke-width="1.2"/>
<rect x="295.2" y="211.1" width="10.6" height="8.8" fill="#d6f0f5" stroke="#4fa5b3" stroke-width="1.2"/>
<rect x="104.2" y="282.6" width="10.6" height="8.8" fill="#d6f0f5" stroke="#4fa5b3" stroke-width="1.2"/>
<rect x="142.6" y="279.2" width="10.6" height="8.8" fill="#d6f0f5" stroke="#4fa5b3" stroke-width="1.2"/>
<rect x="184.2" y="277.6" width="10.6" height="8.8" fill="#d6f0f5" stroke="#4fa5b3" stroke-width="1.2"/>
<rect x="61.2" y="302.4" width="10.6" height="8.8" fill="#d6f0f5" stroke="#4fa5b3" stroke-width="1.2"/>
<rect x="126.5" y="304.1" width="10.6" height="8.8" fill="#d6f0f5" stroke="#4fa5b3" stroke-width="1.2"/>
<rect x="171.7" y="306.5" width="10.6" height="8.8" fill="#d6f0f5" stroke="#4fa5b3" stroke-width="1.2"/>
<rect x="207.2" y="314.8" width="10.6" height="8.8" fill="#d6f0f5" stroke="#4fa5b3" stroke-width="1.2"/>
<rect x="49.2" y="333.8" width="10.6" height="8.8" fill="#d6f0f5" stroke="#4fa5b3" stroke-width="1.2"/>
<rect x="116.7" y="348.1" width="10.6" height="8.8" fill="#d6f0f5" stroke="#4fa5b3" stroke-width="1.2"/>
<rect x="162.9" y="345.5" width="5.8" height="8.8" fill="#d6f0f5" stroke="#4fa5b3" stroke-width="1.2"/>
<rect x="192.6" y="344.8" width="5.8" height="8.8" fill="#d6f0f5" stroke="#4fa5b3" stroke-width="1.2"/>
<rect x="265.5" y="341.4" width="10.6" height="8.8" fill="#d6f0f5" stroke="#4fa5b3" stroke-width="1.2"/>
<rect x="283.3" y="349.8" width="10.6" height="8.8" fill="#d6f0f5" stroke="#4fa5b3" stroke-width="1.2"/>
<rect x="306.2" y="331.1" width="10.6" height="8.8" fill="#d6f0f5" stroke="#4fa5b3" stroke-width="1.2"/>
<rect x="244.1" y="381.8" width="5.8" height="8.8" fill="#d6f0f5" stroke="#4fa5b3" stroke-width="1.2"/>
<rect x="134.5" y="391.4" width="10.6" height="8.8" fill="#d6f0f5" stroke="#4fa5b3" stroke-width="1.2"/>
<rect x="358.7" y="255.8" width="10.6" height="8.8" fill="#d6f0f5" stroke="#4fa5b3" stroke-width="1.2"/>
<rect x="443.9" y="255.8" width="10.6" height="8.8" fill="#d6f0f5" stroke="#4fa5b3" stroke-width="1.2"/>
<rect x="489.9" y="252.6" width="10.6" height="8.8" fill="#d6f0f5" stroke="#4fa5b3" stroke-width="1.2"/>
<rect x="544.7" y="282.3" width="10.6" height="8.8" fill="#d6f0f5" stroke="#4fa5b3" stroke-width="1.2"/>
<rect x="367.6" y="313.1" width="10.6" height="8.8" fill="#d6f0f5" stroke="#4fa5b3" stroke-width="1.2"/>
<rect x="443.9" y="317.4" width="10.6" height="8.8" fill="#d6f0f5" stroke="#4fa5b3" stroke-width="1.2"/>
<rect x="406.2" y="341.1" width="10.6" height="8.8" fill="#d6f0f5" stroke="#4fa5b3" stroke-width="1.2"/>
<rect x="503.7" y="358.7" width="10.6" height="8.8" fill="#d6f0f5" stroke="#4fa5b3" stroke-width="1.2"/>
<rect x="563.0" y="371.5" width="5.8" height="8.8" fill="#d6f0f5" stroke="#4fa5b3" stroke-width="1.2"/>
<rect x="48.4" y="417.0" width="10.6" height="8.8" fill="#d6f0f5" stroke="#4fa5b3" stroke-width="1.2"/>
<rect x="152.7" y="421.0" width="10.6" height="8.8" fill="#d6f0f5" stroke="#4fa5b3" stroke-width="1.2"/>
<rect x="175.2" y="421.8" width="10.6" height="8.8" fill="#d6f0f5" stroke="#4fa5b3" stroke-width="1.2"/>
<rect x="331.6" y="419.6" width="5.8" height="8.8" fill="#d6f0f5" stroke="#4fa5b3" stroke-width="1.2"/>
<rect x="277.8" y="438.0" width="10.6" height="8.8" fill="#d6f0f5" stroke="#4fa5b3" stroke-width="1.2"/>
<rect x="259.4" y="448.2" width="10.6" height="8.8" fill="#d6f0f5" stroke="#4fa5b3" stroke-width="1.2"/>
<rect x="315.6" y="474.4" width="10.6" height="8.8" fill="#d6f0f5" stroke="#4fa5b3" stroke-width="1.2"/>
<rect x="309.8" y="488.2" width="10.6" height="8.8" fill="#d6f0f5" stroke="#4fa5b3" stroke-width="1.2"/>
<rect x="151.3" y="473.6" width="10.6" height="8.8" fill="#d6f0f5" stroke="#4fa5b3" stroke-width="1.2"/>
<rect x="171.6" y="478.4" width="5.8" height="8.8" fill="#d6f0f5" stroke="#4fa5b3" stroke-width="1.2"/>
<rect x="40.6" y="486.6" width="10.6" height="8.8" fill="#d6f0f5" stroke="#4fa5b3" stroke-width="1.2"/>
<rect x="12.9" y="497.4" width="10.6" height="8.8" fill="#d6f0f5" stroke="#4fa5b3" stroke-width="1.2"/>
<rect x="190.7" y="498.5" width="10.6" height="8.8" fill="#d6f0f5" stroke="#4fa5b3" stroke-width="1.2"/>
<rect x="80.5" y="515.5" width="5.8" height="8.8" fill="#d6f0f5" stroke="#4fa5b3" stroke-width="1.2"/>
<rect x="146.8" y="517.8" width="10.6" height="8.8" fill="#d6f0f5" stroke="#4fa5b3" stroke-width="1.2"/>
<rect x="47.1" y="531.5" width="10.6" height="8.8" fill="#d6f0f5" stroke="#4fa5b3" stroke-width="1.2"/>
<rect x="67.4" y="531.1" width="10.6" height="8.8" fill="#d6f0f5" stroke="#4fa5b3" stroke-width="1.2"/>
<rect x="205.9" y="551.9" width="10.6" height="8.8" fill="#d6f0f5" stroke="#4fa5b3" stroke-width="1.2"/>
<rect x="46.0" y="564.8" width="5.8" height="8.8" fill="#d6f0f5" stroke="#4fa5b3" stroke-width="1.2"/>
<rect x="167.9" y="580.6" width="10.6" height="8.8" fill="#d6f0f5" stroke="#4fa5b3" stroke-width="1.2"/>
<rect x="201.0" y="576.3" width="10.6" height="8.8" fill="#d6f0f5" stroke="#4fa5b3" stroke-width="1.2"/>
<rect x="271.5" y="577.8" width="10.6" height="8.8" fill="#d6f0f5" stroke="#4fa5b3" stroke-width="1.2"/>
<rect x="64.9" y="593.9" width="10.6" height="8.8" fill="#d6f0f5" stroke="#4fa5b3" stroke-width="1.2"/>
<rect x="179.5" y="600.1" width="10.6" height="8.8" fill="#d6f0f5" stroke="#4fa5b3" stroke-width="1.2"/>
<rect x="109.6" y="617.2" width="10.6" height="8.8" fill="#d6f0f5" stroke="#4fa5b3" stroke-width="1.2"/>
<rect x="156.5" y="625.2" width="10.6" height="8.8" fill="#d6f0f5" stroke="#4fa5b3" stroke-width="1.2"/>
<rect x="265.5" y="619.4" width="10.6" height="8.8" fill="#d6f0f5" stroke="#4fa5b3" stroke-width="1.2"/>
<rect x="60.3" y="640.2" width="10.6" height="8.8" fill="#d6f0f5" stroke="#4fa5b3" stroke-width="1.2"/>
<rect x="376.4" y="406.7" width="10.6" height="8.8" fill="#d6f0f5" stroke="#4fa5b3" stroke-width="1.2"/>
<rect x="411.5" y="412.8" width="10.6" height="8.8" fill="#d6f0f5" stroke="#4fa5b3" stroke-width="1.2"/>
<rect x="476.1" y="395.2" width="10.6" height="8.8" fill="#d6f0f5" stroke="#4fa5b3" stroke-width="1.2"/>
<rect x="531.8" y="427.7" width="10.6" height="8.8" fill="#d6f0f5" stroke="#4fa5b3" stroke-width="1.2"/>
<rect x="466.5" y="463.1" width="10.6" height="8.8" fill="#d6f0f5" stroke="#4fa5b3" stroke-width="1.2"/>
<rect x="497.1" y="491.3" width="10.6" height="8.8" fill="#d6f0f5" stroke="#4fa5b3" stroke-width="1.2"/>
<rect x="619.2" y="496.1" width="10.6" height="8.8" fill="#d6f0f5" stroke="#4fa5b3" stroke-width="1.2"/>
<rect x="350.4" y="496.3" width="10.6" height="8.8" fill="#d6f0f5" stroke="#4fa5b3" stroke-width="1.2"/>
<rect x="429.3" y="545.1" width="5.8" height="8.8" fill="#d6f0f5" stroke="#4fa5b3" stroke-width="1.2"/>
<rect x="463.6" y="547.4" width="10.6" height="8.8" fill="#d6f0f5" stroke="#4fa5b3" stroke-width="1.2"/>
<rect x="386.2" y="561.4" width="10.6" height="8.8" fill="#d6f0f5" stroke="#4fa5b3" stroke-width="1.2"/>
<rect x="616.7" y="567.5" width="10.6" height="8.8" fill="#d6f0f5" stroke="#4fa5b3" stroke-width="1.2"/>
<rect x="665.6" y="584.5" width="10.6" height="8.8" fill="#d6f0f5" stroke="#4fa5b3" stroke-width="1.2"/>
<rect x="496.8" y="602.6" width="10.6" height="8.8" fill="#d6f0f5" stroke="#4fa5b3" stroke-width="1.2"/>
<rect x="413.7" y="605.8" width="10.6" height="8.8" fill="#d6f0f5" stroke="#4fa5b3" stroke-width="1.2"/>
<rect x="608.8" y="619.6" width="10.6" height="8.8" fill="#d6f0f5" stroke="#4fa5b3" stroke-width="1.2"/>
<rect x="354.7" y="620.6" width="10.6" height="8.8" fill="#d6f0f5" stroke="#4fa5b3" stroke-width="1.2"/>
<rect x="292.4" y="540.6" width="10.6" height="8.8" fill="#fdf6f2" stroke="#d9866a" stroke-width="1.1"/>
<g filter="url(#gs)">
<text x="43.0" y="177.6" class="lb" textLength="9" lengthAdjust="spacingAndGlyphs">36</text>
<text x="171.3" y="184.1" class="lb" textLength="9" lengthAdjust="spacingAndGlyphs">91</text>
<text x="234.2" y="197.4" class="lb" textLength="9" lengthAdjust="spacingAndGlyphs">16</text>
<text x="233.2" y="227.8" class="lb" textLength="9" lengthAdjust="spacingAndGlyphs">85</text>
<text x="300.5" y="219.1" class="lb" textLength="9" lengthAdjust="spacingAndGlyphs">14</text>
<text x="109.5" y="290.6" class="lb" textLength="9" lengthAdjust="spacingAndGlyphs">31</text>
<text x="147.9" y="287.2" class="lb" textLength="9" lengthAdjust="spacingAndGlyphs">47</text>
<text x="189.5" y="285.6" class="lb" textLength="9" lengthAdjust="spacingAndGlyphs">23</text>
<text x="66.5" y="310.4" class="lb" textLength="9" lengthAdjust="spacingAndGlyphs">87</text>
<text x="131.8" y="312.1" class="lb" textLength="9" lengthAdjust="spacingAndGlyphs">37</text>
<text x="177.0" y="314.5" class="lb" textLength="9" lengthAdjust="spacingAndGlyphs">11</text>
<text x="212.5" y="322.8" class="lb" textLength="9" lengthAdjust="spacingAndGlyphs">81</text>
<text x="54.5" y="341.8" class="lb" textLength="9" lengthAdjust="spacingAndGlyphs">40</text>
<text x="122.0" y="356.1" class="lb" textLength="9" lengthAdjust="spacingAndGlyphs">32</text>
<text x="165.8" y="353.5" class="lb" textLength="4.6" lengthAdjust="spacingAndGlyphs">7</text>
<text x="195.5" y="352.8" class="lb" textLength="4.6" lengthAdjust="spacingAndGlyphs">5</text>
<text x="270.8" y="349.4" class="lb" textLength="9" lengthAdjust="spacingAndGlyphs">27</text>
<text x="288.6" y="357.8" class="lb" textLength="9" lengthAdjust="spacingAndGlyphs">94</text>
<text x="311.5" y="339.1" class="lb" textLength="9" lengthAdjust="spacingAndGlyphs">25</text>
<text x="247.0" y="389.8" class="lb" textLength="4.6" lengthAdjust="spacingAndGlyphs">6</text>
<text x="139.8" y="399.4" class="lb" textLength="9" lengthAdjust="spacingAndGlyphs">64</text>
<text x="364.0" y="263.8" class="lb" textLength="9" lengthAdjust="spacingAndGlyphs">26</text>
<text x="449.2" y="263.8" class="lb" textLength="9" lengthAdjust="spacingAndGlyphs">58</text>
<text x="495.2" y="260.6" class="lb" textLength="9" lengthAdjust="spacingAndGlyphs">33</text>
<text x="550.0" y="290.3" class="lb" textLength="9" lengthAdjust="spacingAndGlyphs">35</text>
<text x="372.9" y="321.1" class="lb" textLength="9" lengthAdjust="spacingAndGlyphs">19</text>
<text x="449.2" y="325.4" class="lb" textLength="9" lengthAdjust="spacingAndGlyphs">34</text>
<text x="411.5" y="349.1" class="lb" textLength="9" lengthAdjust="spacingAndGlyphs">18</text>
<text x="509.0" y="366.7" class="lb" textLength="9" lengthAdjust="spacingAndGlyphs">22</text>
<text x="565.9" y="379.5" class="lb" textLength="4.6" lengthAdjust="spacingAndGlyphs">8</text>
<text x="53.7" y="425.0" class="lb" textLength="9" lengthAdjust="spacingAndGlyphs">38</text>
<text x="158.0" y="429.0" class="lb" textLength="9" lengthAdjust="spacingAndGlyphs">88</text>
<text x="180.5" y="429.8" class="lb" textLength="9" lengthAdjust="spacingAndGlyphs">20</text>
<text x="334.5" y="427.6" class="lb" textLength="4.6" lengthAdjust="spacingAndGlyphs">4</text>
<text x="283.1" y="446.0" class="lb" textLength="9" lengthAdjust="spacingAndGlyphs">55</text>
<text x="264.7" y="456.2" class="lb" textLength="9" lengthAdjust="spacingAndGlyphs">49</text>
<text x="320.9" y="482.4" class="lb" textLength="9" lengthAdjust="spacingAndGlyphs">39</text>
<text x="315.1" y="496.2" class="lb" textLength="9" lengthAdjust="spacingAndGlyphs">89</text>
<text x="156.6" y="481.6" class="lb" textLength="9" lengthAdjust="spacingAndGlyphs">86</text>
<text x="174.5" y="486.4" class="lb" textLength="4.6" lengthAdjust="spacingAndGlyphs">1</text>
<text x="45.9" y="494.6" class="lb" textLength="9" lengthAdjust="spacingAndGlyphs">73</text>
<text x="18.2" y="505.4" class="lb" textLength="9" lengthAdjust="spacingAndGlyphs">78</text>
<text x="196.0" y="506.5" class="lb" textLength="9" lengthAdjust="spacingAndGlyphs">69</text>
<text x="83.4" y="523.5" class="lb" textLength="4.6" lengthAdjust="spacingAndGlyphs">3</text>
<text x="152.1" y="525.8" class="lb" textLength="9" lengthAdjust="spacingAndGlyphs">12</text>
<text x="52.4" y="539.5" class="lb" textLength="9" lengthAdjust="spacingAndGlyphs">55</text>
<text x="72.7" y="539.1" class="lb" textLength="9" lengthAdjust="spacingAndGlyphs">92</text>
<text x="211.2" y="559.9" class="lb" textLength="9" lengthAdjust="spacingAndGlyphs">82</text>
<text x="48.9" y="572.8" class="lb" textLength="4.6" lengthAdjust="spacingAndGlyphs">2</text>
<text x="173.2" y="588.6" class="lb" textLength="9" lengthAdjust="spacingAndGlyphs">56</text>
<text x="206.3" y="584.3" class="lb" textLength="9" lengthAdjust="spacingAndGlyphs">18</text>
<text x="276.8" y="585.8" class="lb" textLength="9" lengthAdjust="spacingAndGlyphs">79</text>
<text x="70.2" y="601.9" class="lb" textLength="9" lengthAdjust="spacingAndGlyphs">50</text>
<text x="184.8" y="608.1" class="lb" textLength="9" lengthAdjust="spacingAndGlyphs">21</text>
<text x="114.9" y="625.2" class="lb" textLength="9" lengthAdjust="spacingAndGlyphs">53</text>
<text x="161.8" y="633.2" class="lb" textLength="9" lengthAdjust="spacingAndGlyphs">52</text>
<text x="270.8" y="627.4" class="lb" textLength="9" lengthAdjust="spacingAndGlyphs">70</text>
<text x="65.6" y="648.2" class="lb" textLength="9" lengthAdjust="spacingAndGlyphs">54</text>
<text x="381.7" y="414.7" class="lb" textLength="9" lengthAdjust="spacingAndGlyphs">15</text>
<text x="416.8" y="420.8" class="lb" textLength="9" lengthAdjust="spacingAndGlyphs">61</text>
<text x="481.4" y="403.2" class="lb" textLength="9" lengthAdjust="spacingAndGlyphs">75</text>
<text x="537.1" y="435.7" class="lb" textLength="9" lengthAdjust="spacingAndGlyphs">60</text>
<text x="471.8" y="471.1" class="lb" textLength="9" lengthAdjust="spacingAndGlyphs">24</text>
<text x="502.4" y="499.3" class="lb" textLength="9" lengthAdjust="spacingAndGlyphs">51</text>
<text x="624.5" y="504.1" class="lb" textLength="9" lengthAdjust="spacingAndGlyphs">59</text>
<text x="355.7" y="504.3" class="lb" textLength="9" lengthAdjust="spacingAndGlyphs">67</text>
<text x="432.2" y="553.1" class="lb" textLength="4.6" lengthAdjust="spacingAndGlyphs">9</text>
<text x="468.9" y="555.4" class="lb" textLength="9" lengthAdjust="spacingAndGlyphs">29</text>
<text x="391.5" y="569.4" class="lb" textLength="9" lengthAdjust="spacingAndGlyphs">74</text>
<text x="622.0" y="575.5" class="lb" textLength="9" lengthAdjust="spacingAndGlyphs">62</text>
<text x="670.9" y="592.5" class="lb" textLength="9" lengthAdjust="spacingAndGlyphs">77</text>
<text x="502.1" y="610.6" class="lb" textLength="9" lengthAdjust="spacingAndGlyphs">30</text>
<text x="419.0" y="613.8" class="lb" textLength="9" lengthAdjust="spacingAndGlyphs">97</text>
<text x="614.1" y="627.6" class="lb" textLength="9" lengthAdjust="spacingAndGlyphs">28</text>
<text x="360.0" y="628.6" class="lb" textLength="9" lengthAdjust="spacingAndGlyphs">13</text>
<text x="297.7" y="548.6" class="lb" textLength="9" lengthAdjust="spacingAndGlyphs">17</text>
<text x="170.7" y="232.3" class="lb" style="font-size:9.5px">32</text>
<text x="336.5" y="222.3" class="lb" style="font-size:9.5px">27</text>
<text x="307.6" y="456.7" class="lb" style="font-size:9.6px">55</text>
<text x="602.5" y="450.8" class="lb" style="font-size:9.5px">60</text>
<text x="603.0" y="482.5" class="lb" style="font-size:9.5px">72</text>
<text class="tx" x="432.5" y="178.2" font-size="9.6" textLength="191.5" lengthAdjust="spacingAndGlyphs">GEN II 291/306/369/414/420cc Snow Engines</text>
<text class="tx" x="548.8" y="215" font-size="9.6" textLength="60" lengthAdjust="spacingAndGlyphs">9999 Options</text>
<text class="tx" x="533.5" y="485" font-size="9.6" textLength="36" lengthAdjust="spacingAndGlyphs">DECALS</text>
<text class="tx" x="222.3" y="624.5" font-size="9.8" text-anchor="middle" textLength="46.5" lengthAdjust="spacingAndGlyphs">Carburetor</text>
<text class="tx" x="222.3" y="637.3" font-size="9.8" text-anchor="middle" textLength="41" lengthAdjust="spacingAndGlyphs">Repair Kit</text>
<text class="tx" x="305.5" y="658.6" font-size="5.3" textLength="137" lengthAdjust="spacingAndGlyphs" style="fill:#555">ILLUSTRATION FOR REFERENCE PURPOSES ONLY</text>
<text class="tx" x="54" y="461.9" font-size="5" textLength="47" lengthAdjust="spacingAndGlyphs" style="fill:#555">* Included w/ship per#1</text>
</g>
</svg>
</body></html>
